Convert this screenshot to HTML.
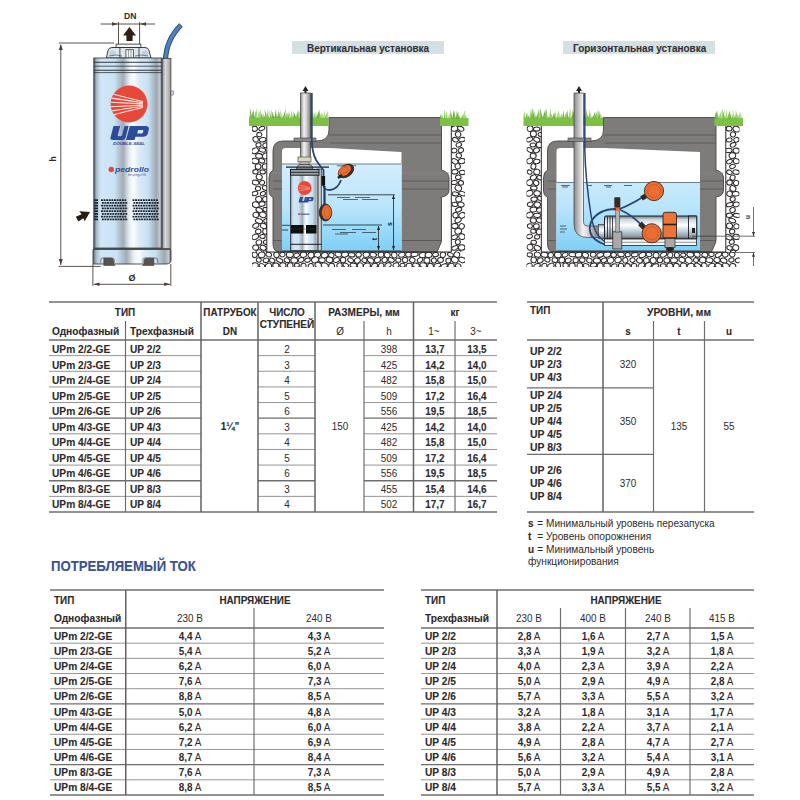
<!DOCTYPE html>
<html><head><meta charset="utf-8"><style>
html,body{margin:0;padding:0;background:#fff}
#p{position:relative;width:800px;height:800px;overflow:hidden;background:#fff}
.t{position:absolute;font-family:"Liberation Sans",sans-serif;white-space:nowrap;line-height:1}
.t b{font-weight:bold}
.bd{-webkit-text-stroke:0.1px currentColor}
svg{position:absolute;left:0;top:0}
</style></head><body><div id="p">
<svg width="800" height="800" viewBox="0 0 800 800">
<defs>
<linearGradient id="steel" x1="0" x2="1" y1="0" y2="0">
 <stop offset="0" stop-color="#56606a"/>
 <stop offset="0.04" stop-color="#a9bac6"/>
 <stop offset="0.1" stop-color="#cfe6f8"/>
 <stop offset="0.3" stop-color="#cbe3f6"/>
 <stop offset="0.43" stop-color="#a2acb3"/>
 <stop offset="0.52" stop-color="#e6eef3"/>
 <stop offset="0.58" stop-color="#fbfdff"/>
 <stop offset="0.66" stop-color="#dcebf6"/>
 <stop offset="0.8" stop-color="#c6e0f3"/>
 <stop offset="0.92" stop-color="#9ea8af"/>
 <stop offset="0.97" stop-color="#c3ccd2"/>
 <stop offset="1" stop-color="#4f5961"/>
</linearGradient>
<linearGradient id="strip" x1="0" x2="1">
 <stop offset="0" stop-color="#8d8d8d"/><stop offset="0.4" stop-color="#d8d8d8"/><stop offset="1" stop-color="#9a9a9a"/>
</linearGradient>
<linearGradient id="pipe" x1="0" x2="1">
 <stop offset="0" stop-color="#8a8a8a"/><stop offset="0.35" stop-color="#f2f2f2"/><stop offset="0.6" stop-color="#d0d0d0"/><stop offset="1" stop-color="#7a7a7a"/>
</linearGradient>
<linearGradient id="pipeh" x1="0" x2="0" y1="0" y2="1">
 <stop offset="0" stop-color="#8a8a8a"/><stop offset="0.35" stop-color="#f2f2f2"/><stop offset="0.6" stop-color="#d0d0d0"/><stop offset="1" stop-color="#7a7a7a"/>
</linearGradient>
<linearGradient id="water" gradientUnits="userSpaceOnUse" x1="0" x2="0" y1="164" y2="251">
 <stop offset="0" stop-color="#d4edfb"/><stop offset="0.5" stop-color="#b9e5fb"/><stop offset="1" stop-color="#7ecff7"/>
</linearGradient>
<linearGradient id="hsteel" x1="0" x2="0" y1="0" y2="1">
 <stop offset="0" stop-color="#6a747c"/><stop offset="0.15" stop-color="#c9d6df"/><stop offset="0.4" stop-color="#ffffff"/><stop offset="0.65" stop-color="#c3d2dd"/><stop offset="0.85" stop-color="#9aa5ad"/><stop offset="1" stop-color="#5a646c"/>
</linearGradient>
<radialGradient id="flt" cx="0.45" cy="0.45" r="0.6">
 <stop offset="0" stop-color="#f07b3e"/><stop offset="0.7" stop-color="#e8692f"/><stop offset="1" stop-color="#b84a1c"/>
</radialGradient>
</defs>
<g stroke="#4a3f3a" stroke-width="0.9" fill="none">
<line x1="59" y1="43" x2="114" y2="43"/>
<line x1="60.8" y1="45" x2="60.8" y2="265"/>
<line x1="58.7" y1="266.4" x2="100.7" y2="266.4"/>
<line x1="100.6" y1="24" x2="155" y2="24"/>
<line x1="118.5" y1="22" x2="118.5" y2="44"/>
<line x1="139.6" y1="22" x2="139.6" y2="44"/>
<line x1="92.9" y1="264" x2="92.9" y2="286"/>
<line x1="170.8" y1="264" x2="170.8" y2="286"/>
<line x1="94" y1="284.3" x2="170" y2="284.3"/>
</g>
<g fill="#4a3f3a">
<path d="M60.8 44 L58.8 50 L62.8 50Z"/><path d="M60.8 265 L58.8 259 L62.8 259Z"/>
<path d="M118 24 L112 22.3 L112 25.7Z"/><path d="M140 24 L146 22.3 L146 25.7Z"/>
<path d="M93.5 284.3 L99.5 282.6 L99.5 286Z"/><path d="M170.2 284.3 L164.2 282.6 L164.2 286Z"/>
</g>
<path d="M129.5 27 L136 35.5 L132.6 35.5 L132.6 41 L126.4 41 L126.4 35.5 L123 35.5Z" fill="#2f2015"/>
<path d="M90 212 L79.3 211.2 L81.6 214.3 L75.8 216.8 L78.3 221.4 L83.4 218.2 L84.6 221.2Z" fill="#2a1c12"/>
<path d="M181 25 C172 34 166 44 165.5 60" stroke="#27436e" stroke-width="5.2" fill="none"/>
<path d="M181 25 C172 34 166 44 165.5 60" stroke="#4f7fc0" stroke-width="3.4" fill="none"/>
<rect x="116.1" y="44.1" width="24.8" height="3.4" fill="#f2f4f5" stroke="#2a2a2a" stroke-width="0.8"/>
<path d="M106.4 58 L108 50.5 Q108.8 47.5 112 47.5 H145 Q148.2 47.5 149 50.5 L151 58 Z" fill="#dde6ec" stroke="#2a2a2a" stroke-width="0.9"/>
<ellipse cx="112.5" cy="53.5" rx="3.2" ry="3" fill="#bcd3e3"/><ellipse cx="145" cy="53.5" rx="3.2" ry="3" fill="#bcd3e3"/>
<path d="M109 56 Q116 54 122 56 M135 56 Q141 54 148 56" stroke="#3a3a3a" stroke-width="0.6" fill="none"/>
<line x1="119.9" y1="47.5" x2="119.9" y2="58" stroke="#2a2a2a" stroke-width="0.8"/><line x1="139" y1="47.5" x2="139" y2="58" stroke="#2a2a2a" stroke-width="0.8"/>
<rect x="125.9" y="49.7" width="7.5" height="8.3" fill="#eef2f4" stroke="#2a2a2a" stroke-width="0.7"/>
<line x1="128.5" y1="50" x2="128.5" y2="58" stroke="#555" stroke-width="0.5"/><line x1="131" y1="50" x2="131" y2="58" stroke="#555" stroke-width="0.5"/>
<rect x="161.9" y="58.5" width="9" height="190" fill="url(#strip)" stroke="#3b3b3b" stroke-width="0.8"/>
<rect x="171" y="91" width="2.2" height="4" fill="#ddd" stroke="#444" stroke-width="0.5"/>
<rect x="93.8" y="58" width="68.2" height="190.5" fill="url(#steel)" stroke="#3a3f45" stroke-width="0.9"/>
<line x1="93.8" y1="62.3" x2="162" y2="62.3" stroke="#2e343a" stroke-width="1.1"/>
<line x1="93.8" y1="66.2" x2="162" y2="66.2" stroke="#2e343a" stroke-width="0.8"/>
<line x1="93.8" y1="70.2" x2="162" y2="70.2" stroke="#2e343a" stroke-width="1.1"/>
<line x1="93.8" y1="72.6" x2="162" y2="72.6" stroke="#2e343a" stroke-width="0.8"/>
<path d="M93 249.5 H171 V260 Q171 264 166 264 H93Z" fill="url(#steel)" stroke="#3a3f45" stroke-width="0.9"/>
<line x1="93" y1="248" x2="162" y2="248" stroke="#3a3f45" stroke-width="0.8"/>
<path d="M100.8 263 V259.5 Q100.8 258 102.5 258 H112 Q114.3 258 114.3 260 V263" fill="none" stroke="#4a4f55" stroke-width="0.7"/>
<path d="M143 263 V259.5 Q143 258 144.7 258 H155.5 Q157.8 258 157.8 260 V263" fill="none" stroke="#4a4f55" stroke-width="0.7"/>
<path d="M103.8 258.2 H111 Q113.4 258.2 113.4 261 V263.5 L115 265.5 H103.8Z" fill="#57544f" stroke="#2a2a2a" stroke-width="0.5"/>
<path d="M146.5 258.2 H153.8 V265.5 H142.5 L144.2 263.5 V261 Q144.2 258.2 146.5 258.2Z" fill="#57544f" stroke="#2a2a2a" stroke-width="0.5"/>
<circle cx="129" cy="104" r="18.4" fill="#e8483a"/>
<clipPath id="logoclip"><circle cx="129" cy="104" r="18.4"/></clipPath>
<g clip-path="url(#logoclip)"><path d="M110.5 93.5 Q124 97.1 143 101.5" stroke="#fde4df" stroke-width="1.15" fill="none"/><path d="M110.5 97.9 Q124 100.1 143 102.7" stroke="#fde4df" stroke-width="1.15" fill="none"/><path d="M110.5 102.3 Q124 103.0 143 103.9" stroke="#fde4df" stroke-width="1.15" fill="none"/><path d="M110.5 106.7 Q124 106.0 143 105.1" stroke="#fde4df" stroke-width="1.15" fill="none"/><path d="M110.5 111.1 Q124 108.9 143 106.3" stroke="#fde4df" stroke-width="1.15" fill="none"/><path d="M110.5 115.5 Q124 111.9 143 107.5" stroke="#fde4df" stroke-width="1.15" fill="none"/></g>
<path d="M110.5 137.5 L113.5 126 H120.2 L117.8 135 Q117.5 136.2 118.8 136.2 H120.5 Q121.8 136.2 122.1 135 L124.5 126 H128.6 L125.6 137.5 Q125 140 122 140 H113 Q110 140 110.5 137.5Z" fill="#2b4c9a"/>
<path fill-rule="evenodd" d="M126 140 L129.8 126 H145.5 Q149.5 126 148.8 129.5 L148 133 Q147.2 136.8 143 136.8 H135.5 L134.6 140Z M137.2 133.5 H141.5 Q142.8 133.5 143.1 132.2 L143.3 131.3 Q143.6 130 142.3 130 H138.2Z" fill="#2b4c9a"/>
<text x="129" y="145.3" text-anchor="middle" font-family="Liberation Sans" font-weight="bold" font-style="italic" font-size="3.6" fill="#2b4c9a" textLength="32" lengthAdjust="spacingAndGlyphs">DOUBLE-SEAL</text>
<circle cx="111.3" cy="169.5" r="2.8" fill="#e8483a"/>
<text x="115" y="172.3" font-family="Liberation Sans" font-weight="bold" font-style="italic" font-size="7.5" fill="#2d4f95" textLength="34" lengthAdjust="spacingAndGlyphs">pedrollo</text>
<text x="128" y="175.5" font-family="Liberation Sans" font-style="italic" font-size="2.6" fill="#2d4f95">the spring of life</text>
<g fill="#15202a"><rect x="94.2" y="199.30" width="3.8" height="1.7"/><rect x="101.0" y="199.30" width="1.9" height="1.7"/><rect x="103.6" y="199.30" width="1.9" height="1.7"/><rect x="106.2" y="199.30" width="1.9" height="1.7"/><rect x="108.8" y="199.30" width="1.9" height="1.7"/><rect x="111.4" y="199.30" width="1.9" height="1.7"/><rect x="114.0" y="199.30" width="1.9" height="1.7"/><rect x="116.6" y="199.30" width="1.9" height="1.7"/><rect x="119.2" y="199.30" width="1.9" height="1.7"/><rect x="121.8" y="199.30" width="1.9" height="1.7"/><rect x="124.4" y="199.30" width="1.9" height="1.7"/><rect x="132.5" y="199.30" width="1.9" height="1.7"/><rect x="135.1" y="199.30" width="1.9" height="1.7"/><rect x="137.7" y="199.30" width="1.9" height="1.7"/><rect x="140.3" y="199.30" width="1.9" height="1.7"/><rect x="142.9" y="199.30" width="1.9" height="1.7"/><rect x="145.5" y="199.30" width="1.9" height="1.7"/><rect x="148.1" y="199.30" width="1.9" height="1.7"/><rect x="150.7" y="199.30" width="1.9" height="1.7"/><rect x="153.3" y="199.30" width="1.9" height="1.7"/><rect x="155.9" y="199.30" width="1.9" height="1.7"/><rect x="94.2" y="202.05" width="3.8" height="1.7"/><rect x="101.9" y="202.05" width="1.9" height="1.7"/><rect x="104.5" y="202.05" width="1.9" height="1.7"/><rect x="107.1" y="202.05" width="1.9" height="1.7"/><rect x="109.7" y="202.05" width="1.9" height="1.7"/><rect x="112.3" y="202.05" width="1.9" height="1.7"/><rect x="114.9" y="202.05" width="1.9" height="1.7"/><rect x="117.5" y="202.05" width="1.9" height="1.7"/><rect x="120.1" y="202.05" width="1.9" height="1.7"/><rect x="122.7" y="202.05" width="1.9" height="1.7"/><rect x="125.3" y="202.05" width="1.9" height="1.7"/><rect x="133.4" y="202.05" width="1.9" height="1.7"/><rect x="136.0" y="202.05" width="1.9" height="1.7"/><rect x="138.6" y="202.05" width="1.9" height="1.7"/><rect x="141.2" y="202.05" width="1.9" height="1.7"/><rect x="143.8" y="202.05" width="1.9" height="1.7"/><rect x="146.4" y="202.05" width="1.9" height="1.7"/><rect x="149.0" y="202.05" width="1.9" height="1.7"/><rect x="151.6" y="202.05" width="1.9" height="1.7"/><rect x="154.2" y="202.05" width="1.9" height="1.7"/><rect x="156.8" y="202.05" width="1.9" height="1.7"/><rect x="94.2" y="204.80" width="3.8" height="1.7"/><rect x="101.0" y="204.80" width="1.9" height="1.7"/><rect x="103.6" y="204.80" width="1.9" height="1.7"/><rect x="106.2" y="204.80" width="1.9" height="1.7"/><rect x="108.8" y="204.80" width="1.9" height="1.7"/><rect x="111.4" y="204.80" width="1.9" height="1.7"/><rect x="114.0" y="204.80" width="1.9" height="1.7"/><rect x="116.6" y="204.80" width="1.9" height="1.7"/><rect x="119.2" y="204.80" width="1.9" height="1.7"/><rect x="121.8" y="204.80" width="1.9" height="1.7"/><rect x="124.4" y="204.80" width="1.9" height="1.7"/><rect x="132.5" y="204.80" width="1.9" height="1.7"/><rect x="135.1" y="204.80" width="1.9" height="1.7"/><rect x="137.7" y="204.80" width="1.9" height="1.7"/><rect x="140.3" y="204.80" width="1.9" height="1.7"/><rect x="142.9" y="204.80" width="1.9" height="1.7"/><rect x="145.5" y="204.80" width="1.9" height="1.7"/><rect x="148.1" y="204.80" width="1.9" height="1.7"/><rect x="150.7" y="204.80" width="1.9" height="1.7"/><rect x="153.3" y="204.80" width="1.9" height="1.7"/><rect x="155.9" y="204.80" width="1.9" height="1.7"/><rect x="94.2" y="207.55" width="3.8" height="1.7"/><rect x="101.9" y="207.55" width="1.9" height="1.7"/><rect x="104.5" y="207.55" width="1.9" height="1.7"/><rect x="107.1" y="207.55" width="1.9" height="1.7"/><rect x="109.7" y="207.55" width="1.9" height="1.7"/><rect x="112.3" y="207.55" width="1.9" height="1.7"/><rect x="114.9" y="207.55" width="1.9" height="1.7"/><rect x="117.5" y="207.55" width="1.9" height="1.7"/><rect x="120.1" y="207.55" width="1.9" height="1.7"/><rect x="122.7" y="207.55" width="1.9" height="1.7"/><rect x="125.3" y="207.55" width="1.9" height="1.7"/><rect x="133.4" y="207.55" width="1.9" height="1.7"/><rect x="136.0" y="207.55" width="1.9" height="1.7"/><rect x="138.6" y="207.55" width="1.9" height="1.7"/><rect x="141.2" y="207.55" width="1.9" height="1.7"/><rect x="143.8" y="207.55" width="1.9" height="1.7"/><rect x="146.4" y="207.55" width="1.9" height="1.7"/><rect x="149.0" y="207.55" width="1.9" height="1.7"/><rect x="151.6" y="207.55" width="1.9" height="1.7"/><rect x="154.2" y="207.55" width="1.9" height="1.7"/><rect x="156.8" y="207.55" width="1.9" height="1.7"/><rect x="94.2" y="210.30" width="3.8" height="1.7"/><rect x="101.0" y="210.30" width="1.9" height="1.7"/><rect x="103.6" y="210.30" width="1.9" height="1.7"/><rect x="106.2" y="210.30" width="1.9" height="1.7"/><rect x="108.8" y="210.30" width="1.9" height="1.7"/><rect x="111.4" y="210.30" width="1.9" height="1.7"/><rect x="114.0" y="210.30" width="1.9" height="1.7"/><rect x="116.6" y="210.30" width="1.9" height="1.7"/><rect x="119.2" y="210.30" width="1.9" height="1.7"/><rect x="121.8" y="210.30" width="1.9" height="1.7"/><rect x="124.4" y="210.30" width="1.9" height="1.7"/><rect x="132.5" y="210.30" width="1.9" height="1.7"/><rect x="135.1" y="210.30" width="1.9" height="1.7"/><rect x="137.7" y="210.30" width="1.9" height="1.7"/><rect x="140.3" y="210.30" width="1.9" height="1.7"/><rect x="142.9" y="210.30" width="1.9" height="1.7"/><rect x="145.5" y="210.30" width="1.9" height="1.7"/><rect x="148.1" y="210.30" width="1.9" height="1.7"/><rect x="150.7" y="210.30" width="1.9" height="1.7"/><rect x="153.3" y="210.30" width="1.9" height="1.7"/><rect x="155.9" y="210.30" width="1.9" height="1.7"/><rect x="94.2" y="213.05" width="3.8" height="1.7"/><rect x="101.9" y="213.05" width="1.9" height="1.7"/><rect x="104.5" y="213.05" width="1.9" height="1.7"/><rect x="107.1" y="213.05" width="1.9" height="1.7"/><rect x="109.7" y="213.05" width="1.9" height="1.7"/><rect x="112.3" y="213.05" width="1.9" height="1.7"/><rect x="114.9" y="213.05" width="1.9" height="1.7"/><rect x="117.5" y="213.05" width="1.9" height="1.7"/><rect x="120.1" y="213.05" width="1.9" height="1.7"/><rect x="122.7" y="213.05" width="1.9" height="1.7"/><rect x="125.3" y="213.05" width="1.9" height="1.7"/><rect x="133.4" y="213.05" width="1.9" height="1.7"/><rect x="136.0" y="213.05" width="1.9" height="1.7"/><rect x="138.6" y="213.05" width="1.9" height="1.7"/><rect x="141.2" y="213.05" width="1.9" height="1.7"/><rect x="143.8" y="213.05" width="1.9" height="1.7"/><rect x="146.4" y="213.05" width="1.9" height="1.7"/><rect x="149.0" y="213.05" width="1.9" height="1.7"/><rect x="151.6" y="213.05" width="1.9" height="1.7"/><rect x="154.2" y="213.05" width="1.9" height="1.7"/><rect x="156.8" y="213.05" width="1.9" height="1.7"/><rect x="94.2" y="215.80" width="3.8" height="1.7"/><rect x="101.0" y="215.80" width="1.9" height="1.7"/><rect x="103.6" y="215.80" width="1.9" height="1.7"/><rect x="106.2" y="215.80" width="1.9" height="1.7"/><rect x="108.8" y="215.80" width="1.9" height="1.7"/><rect x="111.4" y="215.80" width="1.9" height="1.7"/><rect x="114.0" y="215.80" width="1.9" height="1.7"/><rect x="116.6" y="215.80" width="1.9" height="1.7"/><rect x="119.2" y="215.80" width="1.9" height="1.7"/><rect x="121.8" y="215.80" width="1.9" height="1.7"/><rect x="124.4" y="215.80" width="1.9" height="1.7"/><rect x="132.5" y="215.80" width="1.9" height="1.7"/><rect x="135.1" y="215.80" width="1.9" height="1.7"/><rect x="137.7" y="215.80" width="1.9" height="1.7"/><rect x="140.3" y="215.80" width="1.9" height="1.7"/><rect x="142.9" y="215.80" width="1.9" height="1.7"/><rect x="145.5" y="215.80" width="1.9" height="1.7"/><rect x="148.1" y="215.80" width="1.9" height="1.7"/><rect x="150.7" y="215.80" width="1.9" height="1.7"/><rect x="153.3" y="215.80" width="1.9" height="1.7"/><rect x="155.9" y="215.80" width="1.9" height="1.7"/><rect x="94.2" y="218.55" width="3.8" height="1.7"/><rect x="101.9" y="218.55" width="1.9" height="1.7"/><rect x="104.5" y="218.55" width="1.9" height="1.7"/><rect x="107.1" y="218.55" width="1.9" height="1.7"/><rect x="109.7" y="218.55" width="1.9" height="1.7"/><rect x="112.3" y="218.55" width="1.9" height="1.7"/><rect x="114.9" y="218.55" width="1.9" height="1.7"/><rect x="117.5" y="218.55" width="1.9" height="1.7"/><rect x="120.1" y="218.55" width="1.9" height="1.7"/><rect x="122.7" y="218.55" width="1.9" height="1.7"/><rect x="125.3" y="218.55" width="1.9" height="1.7"/><rect x="133.4" y="218.55" width="1.9" height="1.7"/><rect x="136.0" y="218.55" width="1.9" height="1.7"/><rect x="138.6" y="218.55" width="1.9" height="1.7"/><rect x="141.2" y="218.55" width="1.9" height="1.7"/><rect x="143.8" y="218.55" width="1.9" height="1.7"/><rect x="146.4" y="218.55" width="1.9" height="1.7"/><rect x="149.0" y="218.55" width="1.9" height="1.7"/><rect x="151.6" y="218.55" width="1.9" height="1.7"/><rect x="154.2" y="218.55" width="1.9" height="1.7"/><rect x="156.8" y="218.55" width="1.9" height="1.7"/></g>
<text x="130.2" y="18.8" text-anchor="middle" font-family="Liberation Sans" font-weight="bold" font-size="8.6" fill="#2e2a2b">DN</text>
<text x="53" y="159" text-anchor="middle" font-family="Liberation Sans" font-weight="bold" font-size="8.5" fill="#2e2a2b" transform="rotate(-90 53 159)" dy="3">h</text>
<text x="132" y="281" text-anchor="middle" font-family="Liberation Sans" font-weight="bold" font-size="9" fill="#2e2a2b">Ø</text>
<rect x="252" y="126" width="15" height="141" fill="#ffffff"/>
<clipPath id="gc56"><rect x="252" y="126" width="15" height="141"/></clipPath>
<g clip-path="url(#gc56)" fill="#ffffff" stroke="#2e2a2a" stroke-width="1.05"><ellipse cx="254.7" cy="128.8" rx="2.7" ry="2.6" transform="rotate(-8 254.7 128.8)"/><ellipse cx="261.8" cy="128.5" rx="3.1" ry="2.0" transform="rotate(-25 261.8 128.5)"/><ellipse cx="259.3" cy="134.6" rx="2.6" ry="2.2" transform="rotate(5 259.3 134.6)"/><ellipse cx="255.6" cy="139.3" rx="2.6" ry="2.8" transform="rotate(-23 255.6 139.3)"/><ellipse cx="262.7" cy="139.7" rx="3.4" ry="2.2" transform="rotate(-8 262.7 139.7)"/><ellipse cx="258.5" cy="144.9" rx="2.6" ry="2.2" transform="rotate(-11 258.5 144.9)"/><ellipse cx="265.7" cy="145.2" rx="3.0" ry="2.3" transform="rotate(-15 265.7 145.2)"/><ellipse cx="255.1" cy="150.8" rx="3.5" ry="2.7" transform="rotate(-23 255.1 150.8)"/><ellipse cx="262.3" cy="150.0" rx="3.3" ry="2.1" transform="rotate(10 262.3 150.0)"/><ellipse cx="259.1" cy="155.9" rx="3.5" ry="2.3" transform="rotate(5 259.1 155.9)"/><ellipse cx="265.8" cy="155.9" rx="3.4" ry="2.9" transform="rotate(-26 265.8 155.9)"/><ellipse cx="255.2" cy="161.1" rx="3.6" ry="2.7" transform="rotate(10 255.2 161.1)"/><ellipse cx="261.8" cy="160.8" rx="3.0" ry="2.2" transform="rotate(16 261.8 160.8)"/><ellipse cx="258.1" cy="166.6" rx="2.9" ry="2.8" transform="rotate(3 258.1 166.6)"/><ellipse cx="265.6" cy="166.5" rx="3.4" ry="2.8" transform="rotate(-8 265.6 166.5)"/><ellipse cx="255.5" cy="171.8" rx="2.7" ry="2.2" transform="rotate(-1 255.5 171.8)"/><ellipse cx="262.7" cy="171.9" rx="2.8" ry="2.0" transform="rotate(4 262.7 171.9)"/><ellipse cx="259.2" cy="177.0" rx="3.1" ry="2.6" transform="rotate(24 259.2 177.0)"/><ellipse cx="255.6" cy="182.5" rx="3.4" ry="2.4" transform="rotate(8 255.6 182.5)"/><ellipse cx="262.1" cy="182.7" rx="2.6" ry="2.2" transform="rotate(-27 262.1 182.7)"/><ellipse cx="258.0" cy="188.5" rx="2.6" ry="2.3" transform="rotate(7 258.0 188.5)"/><ellipse cx="265.1" cy="187.9" rx="2.8" ry="2.3" transform="rotate(21 265.1 187.9)"/><ellipse cx="254.9" cy="193.5" rx="3.0" ry="2.1" transform="rotate(-14 254.9 193.5)"/><ellipse cx="262.9" cy="193.6" rx="2.7" ry="2.0" transform="rotate(-21 262.9 193.6)"/><ellipse cx="258.7" cy="199.2" rx="3.1" ry="2.9" transform="rotate(-14 258.7 199.2)"/><ellipse cx="265.3" cy="199.2" rx="2.7" ry="2.7" transform="rotate(-10 265.3 199.2)"/><ellipse cx="255.9" cy="204.7" rx="3.6" ry="2.8" transform="rotate(14 255.9 204.7)"/><ellipse cx="262.0" cy="204.0" rx="3.1" ry="2.3" transform="rotate(-13 262.0 204.0)"/><ellipse cx="259.4" cy="210.2" rx="3.6" ry="2.4" transform="rotate(27 259.4 210.2)"/><ellipse cx="265.6" cy="209.6" rx="2.7" ry="2.2" transform="rotate(7 265.6 209.6)"/><ellipse cx="255.9" cy="214.9" rx="3.0" ry="2.6" transform="rotate(10 255.9 214.9)"/><ellipse cx="262.9" cy="214.9" rx="3.4" ry="2.7" transform="rotate(17 262.9 214.9)"/><ellipse cx="259.0" cy="221.0" rx="3.6" ry="2.4" transform="rotate(13 259.0 221.0)"/><ellipse cx="266.3" cy="220.8" rx="2.6" ry="2.1" transform="rotate(-21 266.3 220.8)"/><ellipse cx="255.8" cy="225.7" rx="3.2" ry="2.3" transform="rotate(-29 255.8 225.7)"/><ellipse cx="263.5" cy="225.9" rx="3.2" ry="2.5" transform="rotate(22 263.5 225.9)"/><ellipse cx="258.3" cy="231.5" rx="2.8" ry="2.3" transform="rotate(-14 258.3 231.5)"/><ellipse cx="265.3" cy="231.4" rx="2.6" ry="2.8" transform="rotate(5 265.3 231.4)"/><ellipse cx="255.3" cy="236.8" rx="3.5" ry="2.5" transform="rotate(-29 255.3 236.8)"/><ellipse cx="262.5" cy="236.5" rx="2.7" ry="2.0" transform="rotate(-2 262.5 236.5)"/><ellipse cx="258.9" cy="242.4" rx="2.9" ry="2.5" transform="rotate(-24 258.9 242.4)"/><ellipse cx="266.2" cy="242.2" rx="2.8" ry="2.2" transform="rotate(4 266.2 242.2)"/><ellipse cx="255.7" cy="247.6" rx="3.0" ry="2.6" transform="rotate(12 255.7 247.6)"/><ellipse cx="263.1" cy="247.8" rx="3.1" ry="2.4" transform="rotate(23 263.1 247.8)"/><ellipse cx="258.9" cy="252.7" rx="3.1" ry="2.8" transform="rotate(-23 258.9 252.7)"/><ellipse cx="265.1" cy="253.1" rx="2.6" ry="2.2" transform="rotate(17 265.1 253.1)"/><ellipse cx="254.6" cy="258.7" rx="3.3" ry="2.6" transform="rotate(28 254.6 258.7)"/><ellipse cx="261.8" cy="258.8" rx="3.5" ry="2.4" transform="rotate(20 261.8 258.8)"/><ellipse cx="258.4" cy="263.7" rx="3.1" ry="2.3" transform="rotate(13 258.4 263.7)"/><ellipse cx="265.0" cy="263.7" rx="3.1" ry="2.4" transform="rotate(7 265.0 263.7)"/></g>
<rect x="451.5" y="126" width="13.5" height="141" fill="#ffffff"/>
<clipPath id="gc59"><rect x="451.5" y="126" width="13.5" height="141"/></clipPath>
<g clip-path="url(#gc59)" fill="#ffffff" stroke="#2e2a2a" stroke-width="1.05"><ellipse cx="454.8" cy="128.5" rx="3.6" ry="2.7" transform="rotate(-14 454.8 128.5)"/><ellipse cx="460.7" cy="128.7" rx="3.4" ry="2.2" transform="rotate(25 460.7 128.7)"/><ellipse cx="458.1" cy="134.4" rx="2.7" ry="2.8" transform="rotate(-25 458.1 134.4)"/><ellipse cx="455.4" cy="139.7" rx="3.0" ry="2.1" transform="rotate(18 455.4 139.7)"/><ellipse cx="462.1" cy="139.6" rx="3.4" ry="2.1" transform="rotate(-10 462.1 139.6)"/><ellipse cx="458.8" cy="144.8" rx="2.8" ry="2.1" transform="rotate(-23 458.8 144.8)"/><ellipse cx="454.2" cy="150.6" rx="2.7" ry="2.3" transform="rotate(-13 454.2 150.6)"/><ellipse cx="460.9" cy="150.2" rx="2.7" ry="2.3" transform="rotate(-29 460.9 150.2)"/><ellipse cx="458.8" cy="155.5" rx="2.7" ry="2.4" transform="rotate(19 458.8 155.5)"/><ellipse cx="454.8" cy="161.4" rx="3.4" ry="2.4" transform="rotate(29 454.8 161.4)"/><ellipse cx="461.8" cy="161.1" rx="3.4" ry="2.6" transform="rotate(-9 461.8 161.1)"/><ellipse cx="457.7" cy="166.3" rx="2.6" ry="2.7" transform="rotate(-25 457.7 166.3)"/><ellipse cx="454.9" cy="171.8" rx="3.2" ry="2.3" transform="rotate(-2 454.9 171.8)"/><ellipse cx="462.4" cy="172.4" rx="3.0" ry="2.2" transform="rotate(3 462.4 172.4)"/><ellipse cx="458.3" cy="177.3" rx="2.8" ry="2.3" transform="rotate(-2 458.3 177.3)"/><ellipse cx="454.3" cy="182.5" rx="3.1" ry="2.0" transform="rotate(-6 454.3 182.5)"/><ellipse cx="461.0" cy="182.9" rx="2.5" ry="2.3" transform="rotate(2 461.0 182.9)"/><ellipse cx="458.3" cy="188.1" rx="3.3" ry="2.8" transform="rotate(29 458.3 188.1)"/><ellipse cx="455.4" cy="193.9" rx="3.2" ry="2.0" transform="rotate(8 455.4 193.9)"/><ellipse cx="462.2" cy="193.6" rx="3.4" ry="2.1" transform="rotate(20 462.2 193.6)"/><ellipse cx="458.8" cy="199.2" rx="3.1" ry="2.8" transform="rotate(-16 458.8 199.2)"/><ellipse cx="454.8" cy="204.4" rx="2.9" ry="2.1" transform="rotate(8 454.8 204.4)"/><ellipse cx="461.0" cy="204.6" rx="3.2" ry="2.4" transform="rotate(15 461.0 204.6)"/><ellipse cx="458.6" cy="209.6" rx="3.2" ry="2.1" transform="rotate(-26 458.6 209.6)"/><ellipse cx="455.5" cy="215.2" rx="2.7" ry="2.7" transform="rotate(-7 455.5 215.2)"/><ellipse cx="462.1" cy="215.3" rx="3.3" ry="2.7" transform="rotate(-25 462.1 215.3)"/><ellipse cx="458.1" cy="220.2" rx="3.3" ry="2.3" transform="rotate(-26 458.1 220.2)"/><ellipse cx="454.8" cy="226.0" rx="3.3" ry="2.6" transform="rotate(-2 454.8 226.0)"/><ellipse cx="461.7" cy="226.4" rx="2.6" ry="2.8" transform="rotate(26 461.7 226.4)"/><ellipse cx="458.2" cy="231.2" rx="3.4" ry="2.9" transform="rotate(-17 458.2 231.2)"/><ellipse cx="454.5" cy="237.2" rx="3.1" ry="2.1" transform="rotate(-22 454.5 237.2)"/><ellipse cx="461.9" cy="236.6" rx="3.1" ry="2.8" transform="rotate(24 461.9 236.6)"/><ellipse cx="457.8" cy="242.0" rx="2.5" ry="2.4" transform="rotate(-22 457.8 242.0)"/><ellipse cx="454.9" cy="247.9" rx="3.4" ry="2.0" transform="rotate(-23 454.9 247.9)"/><ellipse cx="461.7" cy="247.5" rx="3.3" ry="2.8" transform="rotate(-6 461.7 247.5)"/><ellipse cx="458.2" cy="252.6" rx="2.9" ry="2.4" transform="rotate(-24 458.2 252.6)"/><ellipse cx="454.4" cy="258.4" rx="3.5" ry="2.2" transform="rotate(-19 454.4 258.4)"/><ellipse cx="461.8" cy="258.5" rx="3.6" ry="2.8" transform="rotate(25 461.8 258.5)"/><ellipse cx="458.6" cy="263.8" rx="3.3" ry="2.0" transform="rotate(15 458.6 263.8)"/></g>
<rect x="252" y="252" width="213" height="15" fill="#ffffff"/>
<clipPath id="gc62"><rect x="252" y="252" width="213" height="15"/></clipPath>
<g clip-path="url(#gc62)" fill="#ffffff" stroke="#2e2a2a" stroke-width="1.05"><ellipse cx="254.7" cy="254.8" rx="2.6" ry="2.8" transform="rotate(-9 254.7 254.8)"/><ellipse cx="261.7" cy="254.9" rx="3.3" ry="2.9" transform="rotate(-12 261.7 254.9)"/><ellipse cx="268.7" cy="254.6" rx="2.9" ry="2.2" transform="rotate(24 268.7 254.6)"/><ellipse cx="276.5" cy="254.8" rx="2.7" ry="2.8" transform="rotate(-22 276.5 254.8)"/><ellipse cx="282.4" cy="254.6" rx="2.6" ry="2.3" transform="rotate(-14 282.4 254.6)"/><ellipse cx="289.8" cy="254.7" rx="3.5" ry="2.7" transform="rotate(1 289.8 254.7)"/><ellipse cx="296.6" cy="255.2" rx="2.9" ry="2.1" transform="rotate(-22 296.6 255.2)"/><ellipse cx="303.5" cy="254.6" rx="3.2" ry="2.8" transform="rotate(-15 303.5 254.6)"/><ellipse cx="311.1" cy="255.1" rx="3.0" ry="2.9" transform="rotate(-29 311.1 255.1)"/><ellipse cx="317.4" cy="254.9" rx="3.3" ry="2.8" transform="rotate(-30 317.4 254.9)"/><ellipse cx="324.7" cy="255.2" rx="3.5" ry="2.7" transform="rotate(-15 324.7 255.2)"/><ellipse cx="331.3" cy="255.2" rx="2.7" ry="2.5" transform="rotate(13 331.3 255.2)"/><ellipse cx="338.3" cy="254.4" rx="3.3" ry="2.4" transform="rotate(17 338.3 254.4)"/><ellipse cx="344.9" cy="254.5" rx="3.5" ry="2.6" transform="rotate(-15 344.9 254.5)"/><ellipse cx="351.7" cy="254.8" rx="3.3" ry="2.1" transform="rotate(5 351.7 254.8)"/><ellipse cx="358.6" cy="254.6" rx="2.7" ry="2.5" transform="rotate(-2 358.6 254.6)"/><ellipse cx="366.3" cy="254.6" rx="3.2" ry="2.8" transform="rotate(-15 366.3 254.6)"/><ellipse cx="373.2" cy="254.8" rx="3.3" ry="2.3" transform="rotate(10 373.2 254.8)"/><ellipse cx="381.0" cy="254.6" rx="2.8" ry="2.6" transform="rotate(-28 381.0 254.6)"/><ellipse cx="387.2" cy="255.0" rx="3.0" ry="2.6" transform="rotate(14 387.2 255.0)"/><ellipse cx="394.3" cy="255.1" rx="2.7" ry="2.9" transform="rotate(-16 394.3 255.1)"/><ellipse cx="401.8" cy="254.8" rx="3.3" ry="2.3" transform="rotate(-19 401.8 254.8)"/><ellipse cx="408.6" cy="254.5" rx="3.0" ry="2.6" transform="rotate(-6 408.6 254.5)"/><ellipse cx="414.5" cy="254.4" rx="3.6" ry="2.1" transform="rotate(-6 414.5 254.4)"/><ellipse cx="422.7" cy="255.1" rx="3.5" ry="2.7" transform="rotate(-10 422.7 255.1)"/><ellipse cx="428.6" cy="254.9" rx="3.5" ry="2.7" transform="rotate(-7 428.6 254.9)"/><ellipse cx="435.5" cy="254.6" rx="2.9" ry="2.2" transform="rotate(-9 435.5 254.6)"/><ellipse cx="442.9" cy="254.7" rx="2.6" ry="2.9" transform="rotate(19 442.9 254.7)"/><ellipse cx="450.4" cy="254.7" rx="3.0" ry="2.0" transform="rotate(25 450.4 254.7)"/><ellipse cx="456.8" cy="254.7" rx="2.9" ry="2.8" transform="rotate(19 456.8 254.7)"/><ellipse cx="258.8" cy="260.0" rx="2.5" ry="2.1" transform="rotate(15 258.8 260.0)"/><ellipse cx="266.0" cy="260.3" rx="2.9" ry="2.2" transform="rotate(-14 266.0 260.3)"/><ellipse cx="272.2" cy="260.4" rx="2.8" ry="2.2" transform="rotate(25 272.2 260.4)"/><ellipse cx="279.5" cy="260.2" rx="3.5" ry="2.0" transform="rotate(27 279.5 260.2)"/><ellipse cx="287.0" cy="260.2" rx="2.9" ry="2.2" transform="rotate(26 287.0 260.2)"/><ellipse cx="294.2" cy="260.4" rx="3.4" ry="2.7" transform="rotate(6 294.2 260.4)"/><ellipse cx="301.1" cy="259.9" rx="2.9" ry="2.3" transform="rotate(-18 301.1 259.9)"/><ellipse cx="307.5" cy="260.2" rx="2.8" ry="2.1" transform="rotate(-10 307.5 260.2)"/><ellipse cx="315.0" cy="259.9" rx="3.5" ry="2.9" transform="rotate(-24 315.0 259.9)"/><ellipse cx="321.9" cy="260.1" rx="3.3" ry="2.4" transform="rotate(7 321.9 260.1)"/><ellipse cx="329.5" cy="259.9" rx="3.3" ry="2.8" transform="rotate(20 329.5 259.9)"/><ellipse cx="336.4" cy="260.0" rx="3.1" ry="2.3" transform="rotate(-15 336.4 260.0)"/><ellipse cx="343.1" cy="260.1" rx="2.7" ry="2.8" transform="rotate(-6 343.1 260.1)"/><ellipse cx="350.6" cy="260.3" rx="3.1" ry="2.2" transform="rotate(29 350.6 260.3)"/><ellipse cx="357.4" cy="260.5" rx="3.0" ry="2.7" transform="rotate(-28 357.4 260.5)"/><ellipse cx="364.4" cy="260.3" rx="2.6" ry="2.2" transform="rotate(26 364.4 260.3)"/><ellipse cx="370.7" cy="260.4" rx="3.5" ry="2.4" transform="rotate(27 370.7 260.4)"/><ellipse cx="377.4" cy="260.1" rx="3.2" ry="2.6" transform="rotate(-22 377.4 260.1)"/><ellipse cx="384.6" cy="260.0" rx="2.8" ry="2.5" transform="rotate(-29 384.6 260.0)"/><ellipse cx="391.2" cy="260.0" rx="3.2" ry="2.2" transform="rotate(18 391.2 260.0)"/><ellipse cx="398.3" cy="260.2" rx="2.6" ry="2.1" transform="rotate(8 398.3 260.2)"/><ellipse cx="405.1" cy="260.0" rx="2.7" ry="2.6" transform="rotate(-12 405.1 260.0)"/><ellipse cx="412.3" cy="260.1" rx="2.8" ry="2.5" transform="rotate(22 412.3 260.1)"/><ellipse cx="420.0" cy="260.0" rx="2.9" ry="2.2" transform="rotate(-30 420.0 260.0)"/><ellipse cx="426.9" cy="260.5" rx="3.0" ry="2.7" transform="rotate(-2 426.9 260.5)"/><ellipse cx="433.9" cy="260.5" rx="2.5" ry="2.5" transform="rotate(-25 433.9 260.5)"/><ellipse cx="440.5" cy="260.0" rx="2.9" ry="2.5" transform="rotate(1 440.5 260.0)"/><ellipse cx="448.4" cy="260.6" rx="2.6" ry="2.4" transform="rotate(-18 448.4 260.6)"/><ellipse cx="454.9" cy="259.8" rx="3.5" ry="2.9" transform="rotate(26 454.9 259.8)"/><ellipse cx="462.1" cy="259.9" rx="3.5" ry="2.6" transform="rotate(17 462.1 259.9)"/><ellipse cx="254.9" cy="265.4" rx="3.4" ry="2.7" transform="rotate(-6 254.9 265.4)"/><ellipse cx="262.0" cy="265.8" rx="2.9" ry="2.1" transform="rotate(24 262.0 265.8)"/><ellipse cx="268.5" cy="265.9" rx="3.1" ry="2.7" transform="rotate(-23 268.5 265.9)"/><ellipse cx="275.8" cy="265.5" rx="3.1" ry="2.6" transform="rotate(5 275.8 265.5)"/><ellipse cx="282.9" cy="265.2" rx="3.2" ry="2.4" transform="rotate(7 282.9 265.2)"/><ellipse cx="290.2" cy="265.6" rx="2.8" ry="2.7" transform="rotate(-19 290.2 265.6)"/><ellipse cx="296.9" cy="265.3" rx="2.6" ry="2.1" transform="rotate(-3 296.9 265.3)"/><ellipse cx="303.5" cy="265.8" rx="2.5" ry="2.6" transform="rotate(17 303.5 265.8)"/><ellipse cx="310.8" cy="266.0" rx="2.6" ry="2.5" transform="rotate(-22 310.8 266.0)"/><ellipse cx="318.5" cy="265.4" rx="3.6" ry="2.7" transform="rotate(29 318.5 265.4)"/><ellipse cx="324.8" cy="265.8" rx="3.6" ry="2.8" transform="rotate(26 324.8 265.8)"/><ellipse cx="331.6" cy="265.9" rx="2.9" ry="2.7" transform="rotate(-14 331.6 265.9)"/><ellipse cx="339.5" cy="265.4" rx="2.7" ry="2.5" transform="rotate(-14 339.5 265.4)"/><ellipse cx="345.8" cy="265.3" rx="2.9" ry="2.0" transform="rotate(26 345.8 265.3)"/><ellipse cx="353.5" cy="265.3" rx="3.5" ry="2.2" transform="rotate(2 353.5 265.3)"/><ellipse cx="360.3" cy="265.7" rx="2.9" ry="2.8" transform="rotate(23 360.3 265.7)"/><ellipse cx="366.9" cy="265.8" rx="3.6" ry="2.6" transform="rotate(-14 366.9 265.8)"/><ellipse cx="374.6" cy="265.6" rx="3.1" ry="2.3" transform="rotate(-19 374.6 265.6)"/><ellipse cx="381.2" cy="265.7" rx="2.6" ry="2.7" transform="rotate(29 381.2 265.7)"/><ellipse cx="388.0" cy="265.2" rx="3.2" ry="2.3" transform="rotate(-21 388.0 265.2)"/><ellipse cx="396.0" cy="265.3" rx="3.0" ry="2.5" transform="rotate(-16 396.0 265.3)"/><ellipse cx="402.5" cy="265.3" rx="2.5" ry="2.0" transform="rotate(-9 402.5 265.3)"/><ellipse cx="409.2" cy="265.7" rx="3.1" ry="2.5" transform="rotate(-2 409.2 265.7)"/><ellipse cx="416.0" cy="265.3" rx="3.5" ry="2.2" transform="rotate(8 416.0 265.3)"/><ellipse cx="423.3" cy="265.2" rx="3.4" ry="2.4" transform="rotate(9 423.3 265.2)"/><ellipse cx="430.5" cy="265.9" rx="2.9" ry="2.6" transform="rotate(14 430.5 265.9)"/><ellipse cx="437.4" cy="265.5" rx="3.5" ry="2.0" transform="rotate(-16 437.4 265.5)"/><ellipse cx="444.2" cy="266.0" rx="3.4" ry="2.0" transform="rotate(-21 444.2 266.0)"/><ellipse cx="451.1" cy="265.9" rx="3.2" ry="2.5" transform="rotate(-20 451.1 265.9)"/><ellipse cx="458.2" cy="265.8" rx="2.8" ry="2.0" transform="rotate(13 458.2 265.8)"/></g>
<path d="M329 117.5 H440 Q441.5 117.5 441.5 120 V170 Q449 172 449 178 V190 Q449 196 441.5 197 V240 Q441.5 242 440.5 244 L437 252 H280 Q273 252 273 244 V197 Q269 196 269 190 V178 Q269 172 273 170 V151 Q273 141 283 141 H316 Q329 141 329 130Z" fill="#7e7c7a" stroke="#4a4644" stroke-width="0.9"/>
<g stroke="#55514f" stroke-width="0.8">
<line x1="329" y1="135" x2="441" y2="135"/>
<line x1="330" y1="143" x2="441" y2="143"/>
<line x1="273" y1="181" x2="449" y2="181"/>
<line x1="273" y1="189" x2="449" y2="189"/>
<line x1="273" y1="240.5" x2="441" y2="240.5"/>
</g>
<g stroke="#8a8888" stroke-width="0.7"><line x1="273" y1="173" x2="449" y2="173"/></g>
<path d="M282 151 Q282 148 286 148 H330 L401.5 152 V251 H282Z" fill="#ffffff"/>
<rect x="282" y="164" width="119.5" height="87" fill="url(#water)"/>
<line x1="282" y1="164" x2="401.5" y2="164" stroke="#3a4a55" stroke-width="0.7"/>
<line x1="282" y1="251" x2="401.5" y2="251" stroke="#3a3a3a" stroke-width="1"/>
<path d="M266.8 126 V252 H451.3 V126" fill="none" stroke="#2a2626" stroke-width="1"/>
<rect x="249" y="117.5" width="79.5" height="8.5" fill="#7cc144"/>
<g opacity="0.85"><path d="M249.0 118.0 L251.2 108.4 L251.0 118.0Z" fill="#a5d77a"/><path d="M249.9 118.0 L249.9 107.5 L252.2 118.0Z" fill="#6cb33a"/><path d="M251.0 118.0 L253.3 109.0 L253.6 118.0Z" fill="#6cb33a"/><path d="M252.2 118.0 L253.2 110.2 L254.7 118.0Z" fill="#5aa52e"/><path d="M253.9 118.0 L256.7 107.9 L255.5 118.0Z" fill="#6cb33a"/><path d="M254.9 118.0 L257.4 108.1 L256.6 118.0Z" fill="#8ccd55"/><path d="M256.7 118.0 L259.5 111.5 L258.5 118.0Z" fill="#8ccd55"/><path d="M257.5 118.0 L261.0 108.4 L260.3 118.0Z" fill="#a5d77a"/><path d="M259.7 118.0 L257.9 110.3 L261.1 118.0Z" fill="#8ccd55"/><path d="M260.8 118.0 L260.5 111.7 L263.1 118.0Z" fill="#6cb33a"/><path d="M262.8 118.0 L261.2 112.5 L264.3 118.0Z" fill="#8ccd55"/><path d="M264.1 118.0 L262.5 112.6 L265.6 118.0Z" fill="#6cb33a"/><path d="M265.5 118.0 L264.5 109.1 L267.7 118.0Z" fill="#5aa52e"/><path d="M266.5 118.0 L267.9 107.8 L268.9 118.0Z" fill="#a5d77a"/><path d="M267.9 118.0 L266.7 112.3 L269.4 118.0Z" fill="#6cb33a"/><path d="M269.8 118.0 L269.5 109.7 L271.4 118.0Z" fill="#6cb33a"/><path d="M271.6 118.0 L271.5 109.6 L273.5 118.0Z" fill="#5aa52e"/><path d="M272.1 118.0 L272.3 112.0 L274.5 118.0Z" fill="#5aa52e"/><path d="M274.4 118.0 L275.9 108.9 L276.5 118.0Z" fill="#5aa52e"/><path d="M276.1 118.0 L276.7 113.3 L278.1 118.0Z" fill="#6cb33a"/><path d="M277.5 118.0 L278.6 109.3 L279.2 118.0Z" fill="#6cb33a"/><path d="M278.9 118.0 L279.7 111.8 L281.0 118.0Z" fill="#5aa52e"/><path d="M280.8 118.0 L279.4 107.6 L282.9 118.0Z" fill="#a5d77a"/><path d="M282.5 118.0 L286.0 108.5 L284.7 118.0Z" fill="#5aa52e"/><path d="M283.9 118.0 L286.8 112.5 L286.6 118.0Z" fill="#8ccd55"/><path d="M286.0 118.0 L287.4 112.8 L287.5 118.0Z" fill="#6cb33a"/><path d="M287.4 118.0 L287.9 111.4 L289.4 118.0Z" fill="#6cb33a"/><path d="M288.9 118.0 L289.2 109.6 L290.7 118.0Z" fill="#a5d77a"/><path d="M290.5 118.0 L291.3 110.5 L293.2 118.0Z" fill="#8ccd55"/><path d="M292.8 118.0 L294.4 112.7 L295.2 118.0Z" fill="#6cb33a"/><path d="M294.0 118.0 L293.5 111.5 L296.6 118.0Z" fill="#5aa52e"/><path d="M295.2 118.0 L297.7 110.9 L297.4 118.0Z" fill="#8ccd55"/><path d="M296.5 118.0 L298.6 109.6 L298.6 118.0Z" fill="#5aa52e"/><path d="M298.0 118.0 L300.5 109.3 L299.6 118.0Z" fill="#8ccd55"/><path d="M300.0 118.0 L301.5 109.2 L301.9 118.0Z" fill="#8ccd55"/><path d="M301.0 118.0 L304.6 112.4 L303.4 118.0Z" fill="#6cb33a"/><path d="M302.4 118.0 L301.7 109.6 L304.1 118.0Z" fill="#8ccd55"/><path d="M304.3 118.0 L304.8 109.1 L306.0 118.0Z" fill="#6cb33a"/><path d="M305.6 118.0 L306.2 108.2 L307.1 118.0Z" fill="#a5d77a"/><path d="M307.1 118.0 L308.8 110.5 L309.1 118.0Z" fill="#8ccd55"/><path d="M308.4 118.0 L306.8 109.1 L310.2 118.0Z" fill="#a5d77a"/><path d="M309.8 118.0 L311.8 110.0 L312.4 118.0Z" fill="#8ccd55"/><path d="M311.9 118.0 L312.6 109.7 L313.7 118.0Z" fill="#6cb33a"/><path d="M313.7 118.0 L314.4 112.0 L316.1 118.0Z" fill="#8ccd55"/><path d="M314.9 118.0 L315.8 111.0 L317.2 118.0Z" fill="#a5d77a"/><path d="M316.2 118.0 L319.4 109.5 L318.9 118.0Z" fill="#5aa52e"/><path d="M318.1 118.0 L319.4 111.2 L320.8 118.0Z" fill="#6cb33a"/><path d="M319.2 118.0 L321.7 112.2 L322.0 118.0Z" fill="#8ccd55"/><path d="M321.0 118.0 L322.5 112.9 L323.2 118.0Z" fill="#a5d77a"/><path d="M322.6 118.0 L325.3 109.7 L324.7 118.0Z" fill="#a5d77a"/><path d="M324.6 118.0 L327.9 110.8 L326.3 118.0Z" fill="#6cb33a"/><path d="M326.4 118.0 L328.0 109.8 L328.2 118.0Z" fill="#a5d77a"/></g>
<rect x="440" y="118" width="28.5" height="8" fill="#7cc144"/>
<g opacity="0.85"><path d="M440.0 118.5 L440.6 113.9 L442.0 118.5Z" fill="#5aa52e"/><path d="M441.6 118.5 L441.6 113.3 L443.6 118.5Z" fill="#8ccd55"/><path d="M444.0 118.5 L444.6 108.2 L445.6 118.5Z" fill="#6cb33a"/><path d="M445.6 118.5 L446.6 110.2 L447.8 118.5Z" fill="#8ccd55"/><path d="M447.4 118.5 L449.5 113.1 L450.0 118.5Z" fill="#a5d77a"/><path d="M449.3 118.5 L450.4 112.2 L450.9 118.5Z" fill="#a5d77a"/><path d="M450.5 118.5 L450.3 108.9 L452.4 118.5Z" fill="#5aa52e"/><path d="M452.3 118.5 L453.5 109.9 L454.9 118.5Z" fill="#5aa52e"/><path d="M453.9 118.5 L454.0 110.1 L455.9 118.5Z" fill="#6cb33a"/><path d="M455.3 118.5 L458.8 111.8 L457.9 118.5Z" fill="#6cb33a"/><path d="M456.2 118.5 L456.7 110.6 L458.9 118.5Z" fill="#5aa52e"/><path d="M457.9 118.5 L456.8 113.9 L460.6 118.5Z" fill="#5aa52e"/><path d="M459.5 118.5 L458.6 113.4 L461.2 118.5Z" fill="#a5d77a"/><path d="M460.4 118.5 L463.7 113.1 L462.9 118.5Z" fill="#8ccd55"/><path d="M462.6 118.5 L465.7 109.9 L464.1 118.5Z" fill="#5aa52e"/><path d="M463.2 118.5 L464.6 109.8 L465.6 118.5Z" fill="#a5d77a"/><path d="M465.1 118.5 L464.2 113.3 L467.1 118.5Z" fill="#8ccd55"/></g>
<rect x="526.5" y="126" width="15.0" height="141" fill="#ffffff"/>
<clipPath id="gc83"><rect x="526.5" y="126" width="15.0" height="141"/></clipPath>
<g clip-path="url(#gc83)" fill="#ffffff" stroke="#2e2a2a" stroke-width="1.05"><ellipse cx="530.1" cy="128.6" rx="3.0" ry="2.8" transform="rotate(-20 530.1 128.6)"/><ellipse cx="536.7" cy="129.0" rx="3.3" ry="2.1" transform="rotate(-0 536.7 129.0)"/><ellipse cx="533.4" cy="133.9" rx="3.0" ry="2.9" transform="rotate(-8 533.4 133.9)"/><ellipse cx="540.6" cy="134.6" rx="2.5" ry="2.0" transform="rotate(19 540.6 134.6)"/><ellipse cx="529.5" cy="139.5" rx="3.3" ry="2.1" transform="rotate(-22 529.5 139.5)"/><ellipse cx="536.8" cy="139.6" rx="3.2" ry="2.3" transform="rotate(25 536.8 139.6)"/><ellipse cx="532.9" cy="144.9" rx="2.8" ry="2.0" transform="rotate(-0 532.9 144.9)"/><ellipse cx="539.9" cy="144.8" rx="3.6" ry="2.8" transform="rotate(-0 539.9 144.8)"/><ellipse cx="530.0" cy="150.1" rx="3.3" ry="2.1" transform="rotate(30 530.0 150.1)"/><ellipse cx="536.5" cy="150.3" rx="3.1" ry="2.4" transform="rotate(-23 536.5 150.3)"/><ellipse cx="533.2" cy="155.8" rx="3.0" ry="2.7" transform="rotate(3 533.2 155.8)"/><ellipse cx="529.8" cy="160.9" rx="3.2" ry="2.6" transform="rotate(-28 529.8 160.9)"/><ellipse cx="536.7" cy="161.5" rx="3.2" ry="2.2" transform="rotate(-5 536.7 161.5)"/><ellipse cx="533.4" cy="166.4" rx="2.5" ry="2.8" transform="rotate(13 533.4 166.4)"/><ellipse cx="529.6" cy="172.1" rx="2.5" ry="2.0" transform="rotate(25 529.6 172.1)"/><ellipse cx="536.8" cy="171.9" rx="3.1" ry="2.7" transform="rotate(12 536.8 171.9)"/><ellipse cx="533.4" cy="177.5" rx="3.2" ry="2.5" transform="rotate(-21 533.4 177.5)"/><ellipse cx="540.0" cy="177.7" rx="3.1" ry="2.1" transform="rotate(8 540.0 177.7)"/><ellipse cx="529.7" cy="182.6" rx="3.2" ry="2.9" transform="rotate(-23 529.7 182.6)"/><ellipse cx="536.2" cy="183.0" rx="2.8" ry="2.5" transform="rotate(25 536.2 183.0)"/><ellipse cx="533.8" cy="188.0" rx="3.3" ry="2.1" transform="rotate(3 533.8 188.0)"/><ellipse cx="529.5" cy="193.2" rx="3.5" ry="2.8" transform="rotate(-26 529.5 193.2)"/><ellipse cx="537.1" cy="193.4" rx="3.3" ry="2.6" transform="rotate(6 537.1 193.4)"/><ellipse cx="534.1" cy="199.2" rx="3.2" ry="2.3" transform="rotate(-2 534.1 199.2)"/><ellipse cx="540.9" cy="198.7" rx="3.6" ry="2.1" transform="rotate(18 540.9 198.7)"/><ellipse cx="530.3" cy="204.3" rx="3.0" ry="2.2" transform="rotate(-13 530.3 204.3)"/><ellipse cx="537.3" cy="204.7" rx="3.2" ry="2.7" transform="rotate(14 537.3 204.7)"/><ellipse cx="533.4" cy="209.6" rx="3.4" ry="2.5" transform="rotate(-7 533.4 209.6)"/><ellipse cx="539.8" cy="210.0" rx="3.3" ry="2.2" transform="rotate(-11 539.8 210.0)"/><ellipse cx="529.7" cy="215.0" rx="3.5" ry="2.7" transform="rotate(-22 529.7 215.0)"/><ellipse cx="537.2" cy="215.4" rx="3.6" ry="2.1" transform="rotate(3 537.2 215.4)"/><ellipse cx="533.3" cy="220.5" rx="3.1" ry="2.5" transform="rotate(17 533.3 220.5)"/><ellipse cx="540.0" cy="220.5" rx="3.6" ry="2.3" transform="rotate(13 540.0 220.5)"/><ellipse cx="529.9" cy="226.0" rx="2.5" ry="2.3" transform="rotate(-9 529.9 226.0)"/><ellipse cx="536.4" cy="226.3" rx="2.9" ry="2.5" transform="rotate(-11 536.4 226.3)"/><ellipse cx="533.3" cy="231.2" rx="2.7" ry="2.1" transform="rotate(5 533.3 231.2)"/><ellipse cx="539.7" cy="231.7" rx="3.4" ry="2.8" transform="rotate(-0 539.7 231.7)"/><ellipse cx="529.5" cy="236.4" rx="3.0" ry="2.1" transform="rotate(-13 529.5 236.4)"/><ellipse cx="537.1" cy="236.9" rx="2.6" ry="2.2" transform="rotate(5 537.1 236.9)"/><ellipse cx="533.7" cy="242.3" rx="2.8" ry="2.1" transform="rotate(7 533.7 242.3)"/><ellipse cx="530.0" cy="247.2" rx="2.9" ry="2.9" transform="rotate(-28 530.0 247.2)"/><ellipse cx="537.4" cy="247.9" rx="3.3" ry="2.4" transform="rotate(22 537.4 247.9)"/><ellipse cx="533.5" cy="252.8" rx="3.3" ry="2.1" transform="rotate(-25 533.5 252.8)"/><ellipse cx="529.7" cy="258.2" rx="2.7" ry="2.8" transform="rotate(13 529.7 258.2)"/><ellipse cx="536.2" cy="258.4" rx="3.5" ry="2.8" transform="rotate(-28 536.2 258.4)"/><ellipse cx="533.3" cy="263.8" rx="3.1" ry="2.7" transform="rotate(-24 533.3 263.8)"/><ellipse cx="540.2" cy="263.9" rx="2.5" ry="2.2" transform="rotate(-4 540.2 263.9)"/></g>
<rect x="726.0" y="126" width="13.5" height="141" fill="#ffffff"/>
<clipPath id="gc86"><rect x="726.0" y="126" width="13.5" height="141"/></clipPath>
<g clip-path="url(#gc86)" fill="#ffffff" stroke="#2e2a2a" stroke-width="1.05"><ellipse cx="729.1" cy="128.7" rx="2.9" ry="2.4" transform="rotate(-4 729.1 128.7)"/><ellipse cx="736.4" cy="129.1" rx="3.5" ry="2.8" transform="rotate(18 736.4 129.1)"/><ellipse cx="733.0" cy="134.4" rx="2.6" ry="2.6" transform="rotate(17 733.0 134.4)"/><ellipse cx="729.3" cy="140.0" rx="2.9" ry="2.0" transform="rotate(-11 729.3 140.0)"/><ellipse cx="736.4" cy="139.8" rx="2.6" ry="2.3" transform="rotate(-19 736.4 139.8)"/><ellipse cx="733.1" cy="144.8" rx="3.0" ry="2.1" transform="rotate(-28 733.1 144.8)"/><ellipse cx="728.7" cy="150.4" rx="3.4" ry="2.2" transform="rotate(-1 728.7 150.4)"/><ellipse cx="736.2" cy="150.7" rx="3.1" ry="2.6" transform="rotate(4 736.2 150.7)"/><ellipse cx="732.4" cy="155.6" rx="3.3" ry="2.9" transform="rotate(-16 732.4 155.6)"/><ellipse cx="729.5" cy="161.6" rx="3.0" ry="2.1" transform="rotate(-21 729.5 161.6)"/><ellipse cx="736.3" cy="161.2" rx="3.0" ry="2.5" transform="rotate(17 736.3 161.2)"/><ellipse cx="732.5" cy="166.4" rx="2.9" ry="2.0" transform="rotate(-19 732.5 166.4)"/><ellipse cx="729.4" cy="172.3" rx="2.8" ry="2.2" transform="rotate(23 729.4 172.3)"/><ellipse cx="736.1" cy="172.1" rx="3.3" ry="2.2" transform="rotate(8 736.1 172.1)"/><ellipse cx="732.6" cy="177.7" rx="2.5" ry="2.6" transform="rotate(25 732.6 177.7)"/><ellipse cx="729.6" cy="182.5" rx="2.8" ry="2.6" transform="rotate(-5 729.6 182.5)"/><ellipse cx="736.1" cy="182.9" rx="2.6" ry="2.6" transform="rotate(29 736.1 182.9)"/><ellipse cx="732.9" cy="188.5" rx="3.1" ry="2.8" transform="rotate(28 732.9 188.5)"/><ellipse cx="729.6" cy="193.8" rx="2.8" ry="2.7" transform="rotate(22 729.6 193.8)"/><ellipse cx="735.8" cy="193.8" rx="3.5" ry="2.3" transform="rotate(-3 735.8 193.8)"/><ellipse cx="732.7" cy="199.1" rx="2.6" ry="2.2" transform="rotate(-20 732.7 199.1)"/><ellipse cx="729.8" cy="204.6" rx="3.6" ry="2.0" transform="rotate(-14 729.8 204.6)"/><ellipse cx="736.3" cy="204.4" rx="3.2" ry="2.4" transform="rotate(-9 736.3 204.4)"/><ellipse cx="732.6" cy="210.0" rx="2.8" ry="2.4" transform="rotate(-23 732.6 210.0)"/><ellipse cx="729.4" cy="215.3" rx="3.1" ry="2.2" transform="rotate(-2 729.4 215.3)"/><ellipse cx="736.8" cy="215.4" rx="3.5" ry="2.0" transform="rotate(6 736.8 215.4)"/><ellipse cx="732.2" cy="220.5" rx="3.6" ry="2.0" transform="rotate(20 732.2 220.5)"/><ellipse cx="729.5" cy="225.9" rx="3.1" ry="2.9" transform="rotate(4 729.5 225.9)"/><ellipse cx="736.4" cy="226.3" rx="2.7" ry="2.6" transform="rotate(10 736.4 226.3)"/><ellipse cx="732.1" cy="231.5" rx="2.7" ry="2.3" transform="rotate(-16 732.1 231.5)"/><ellipse cx="728.7" cy="237.2" rx="3.6" ry="2.4" transform="rotate(28 728.7 237.2)"/><ellipse cx="736.3" cy="236.9" rx="3.5" ry="2.6" transform="rotate(8 736.3 236.9)"/><ellipse cx="731.8" cy="242.0" rx="2.6" ry="2.1" transform="rotate(-28 731.8 242.0)"/><ellipse cx="729.6" cy="247.9" rx="2.7" ry="2.1" transform="rotate(24 729.6 247.9)"/><ellipse cx="735.8" cy="247.6" rx="3.1" ry="2.8" transform="rotate(23 735.8 247.6)"/><ellipse cx="733.1" cy="252.8" rx="2.8" ry="2.7" transform="rotate(-3 733.1 252.8)"/><ellipse cx="728.9" cy="258.7" rx="2.9" ry="2.5" transform="rotate(-12 728.9 258.7)"/><ellipse cx="735.8" cy="258.2" rx="3.4" ry="2.0" transform="rotate(3 735.8 258.2)"/><ellipse cx="733.1" cy="263.7" rx="3.5" ry="2.1" transform="rotate(-10 733.1 263.7)"/></g>
<rect x="526.5" y="252" width="213.0" height="15" fill="#ffffff"/>
<clipPath id="gc89"><rect x="526.5" y="252" width="213.0" height="15"/></clipPath>
<g clip-path="url(#gc89)" fill="#ffffff" stroke="#2e2a2a" stroke-width="1.05"><ellipse cx="529.7" cy="254.8" rx="2.7" ry="2.1" transform="rotate(6 529.7 254.8)"/><ellipse cx="537.4" cy="254.7" rx="3.2" ry="2.5" transform="rotate(16 537.4 254.7)"/><ellipse cx="544.5" cy="254.7" rx="3.6" ry="2.6" transform="rotate(10 544.5 254.7)"/><ellipse cx="550.7" cy="255.1" rx="2.7" ry="2.5" transform="rotate(-24 550.7 255.1)"/><ellipse cx="557.9" cy="254.9" rx="3.5" ry="2.9" transform="rotate(8 557.9 254.9)"/><ellipse cx="565.1" cy="254.8" rx="3.0" ry="2.1" transform="rotate(-23 565.1 254.8)"/><ellipse cx="572.5" cy="254.6" rx="3.6" ry="2.1" transform="rotate(7 572.5 254.6)"/><ellipse cx="578.7" cy="254.7" rx="3.4" ry="2.6" transform="rotate(-9 578.7 254.7)"/><ellipse cx="585.4" cy="255.0" rx="3.2" ry="2.6" transform="rotate(29 585.4 255.0)"/><ellipse cx="593.2" cy="254.7" rx="2.8" ry="2.5" transform="rotate(-7 593.2 254.7)"/><ellipse cx="600.2" cy="254.9" rx="3.4" ry="2.3" transform="rotate(-15 600.2 254.9)"/><ellipse cx="607.1" cy="254.4" rx="3.6" ry="2.8" transform="rotate(-15 607.1 254.4)"/><ellipse cx="613.7" cy="254.9" rx="2.8" ry="2.5" transform="rotate(-4 613.7 254.9)"/><ellipse cx="621.0" cy="254.4" rx="3.3" ry="2.4" transform="rotate(11 621.0 254.4)"/><ellipse cx="627.7" cy="254.7" rx="2.5" ry="2.1" transform="rotate(0 627.7 254.7)"/><ellipse cx="634.8" cy="254.7" rx="3.5" ry="2.1" transform="rotate(-6 634.8 254.7)"/><ellipse cx="642.4" cy="255.0" rx="3.5" ry="2.5" transform="rotate(-24 642.4 255.0)"/><ellipse cx="649.0" cy="254.5" rx="2.9" ry="2.1" transform="rotate(9 649.0 254.5)"/><ellipse cx="656.1" cy="255.2" rx="2.9" ry="2.8" transform="rotate(8 656.1 255.2)"/><ellipse cx="663.5" cy="254.7" rx="3.4" ry="2.2" transform="rotate(-26 663.5 254.7)"/><ellipse cx="670.2" cy="255.0" rx="2.6" ry="2.5" transform="rotate(12 670.2 255.0)"/><ellipse cx="676.9" cy="255.1" rx="2.5" ry="2.6" transform="rotate(-6 676.9 255.1)"/><ellipse cx="683.2" cy="255.0" rx="2.5" ry="2.0" transform="rotate(4 683.2 255.0)"/><ellipse cx="690.4" cy="254.6" rx="3.5" ry="2.5" transform="rotate(6 690.4 254.6)"/><ellipse cx="697.1" cy="254.5" rx="3.1" ry="2.5" transform="rotate(27 697.1 254.5)"/><ellipse cx="704.9" cy="254.9" rx="3.0" ry="2.4" transform="rotate(11 704.9 254.9)"/><ellipse cx="711.4" cy="254.4" rx="2.7" ry="2.2" transform="rotate(8 711.4 254.4)"/><ellipse cx="718.5" cy="254.9" rx="3.5" ry="2.1" transform="rotate(-29 718.5 254.9)"/><ellipse cx="725.2" cy="254.4" rx="2.9" ry="2.7" transform="rotate(-16 725.2 254.4)"/><ellipse cx="732.2" cy="254.4" rx="2.7" ry="2.5" transform="rotate(22 732.2 254.4)"/><ellipse cx="533.7" cy="259.9" rx="2.8" ry="2.8" transform="rotate(11 533.7 259.9)"/><ellipse cx="540.2" cy="260.4" rx="3.1" ry="2.4" transform="rotate(-29 540.2 260.4)"/><ellipse cx="547.4" cy="259.8" rx="2.6" ry="2.2" transform="rotate(23 547.4 259.8)"/><ellipse cx="554.9" cy="260.1" rx="2.9" ry="2.3" transform="rotate(9 554.9 260.1)"/><ellipse cx="561.8" cy="260.1" rx="3.0" ry="2.8" transform="rotate(-2 561.8 260.1)"/><ellipse cx="568.2" cy="260.4" rx="3.0" ry="2.3" transform="rotate(-15 568.2 260.4)"/><ellipse cx="575.7" cy="260.2" rx="2.7" ry="2.5" transform="rotate(-2 575.7 260.2)"/><ellipse cx="582.3" cy="260.1" rx="2.8" ry="2.3" transform="rotate(8 582.3 260.1)"/><ellipse cx="589.4" cy="260.5" rx="2.8" ry="2.4" transform="rotate(11 589.4 260.5)"/><ellipse cx="596.9" cy="260.6" rx="3.6" ry="2.5" transform="rotate(2 596.9 260.6)"/><ellipse cx="604.1" cy="260.3" rx="3.1" ry="2.1" transform="rotate(-25 604.1 260.3)"/><ellipse cx="610.6" cy="260.4" rx="3.3" ry="2.7" transform="rotate(-21 610.6 260.4)"/><ellipse cx="618.1" cy="260.0" rx="3.3" ry="2.6" transform="rotate(-19 618.1 260.0)"/><ellipse cx="625.3" cy="260.4" rx="2.6" ry="2.8" transform="rotate(-18 625.3 260.4)"/><ellipse cx="632.5" cy="260.1" rx="2.6" ry="2.3" transform="rotate(-9 632.5 260.1)"/><ellipse cx="639.5" cy="260.5" rx="3.0" ry="2.6" transform="rotate(26 639.5 260.5)"/><ellipse cx="646.4" cy="260.5" rx="2.9" ry="2.7" transform="rotate(-28 646.4 260.5)"/><ellipse cx="653.2" cy="260.5" rx="3.0" ry="2.9" transform="rotate(-24 653.2 260.5)"/><ellipse cx="659.9" cy="260.3" rx="2.8" ry="2.5" transform="rotate(-6 659.9 260.3)"/><ellipse cx="666.9" cy="260.4" rx="3.0" ry="2.7" transform="rotate(3 666.9 260.4)"/><ellipse cx="674.0" cy="260.2" rx="3.5" ry="2.5" transform="rotate(1 674.0 260.2)"/><ellipse cx="682.0" cy="259.9" rx="3.2" ry="2.5" transform="rotate(16 682.0 259.9)"/><ellipse cx="688.7" cy="260.4" rx="3.5" ry="2.8" transform="rotate(28 688.7 260.4)"/><ellipse cx="696.0" cy="260.1" rx="2.5" ry="2.3" transform="rotate(25 696.0 260.1)"/><ellipse cx="702.8" cy="260.0" rx="3.3" ry="2.9" transform="rotate(2 702.8 260.0)"/><ellipse cx="709.5" cy="260.2" rx="3.5" ry="2.4" transform="rotate(11 709.5 260.2)"/><ellipse cx="717.0" cy="260.0" rx="3.2" ry="2.5" transform="rotate(10 717.0 260.0)"/><ellipse cx="723.7" cy="260.6" rx="3.4" ry="2.4" transform="rotate(20 723.7 260.6)"/><ellipse cx="731.4" cy="260.0" rx="2.7" ry="2.1" transform="rotate(-14 731.4 260.0)"/><ellipse cx="737.9" cy="260.3" rx="2.7" ry="2.3" transform="rotate(-22 737.9 260.3)"/><ellipse cx="529.3" cy="265.8" rx="3.0" ry="2.6" transform="rotate(-22 529.3 265.8)"/><ellipse cx="537.1" cy="265.7" rx="3.3" ry="2.1" transform="rotate(-16 537.1 265.7)"/><ellipse cx="544.4" cy="265.7" rx="2.6" ry="2.4" transform="rotate(-21 544.4 265.7)"/><ellipse cx="550.9" cy="265.8" rx="3.4" ry="2.4" transform="rotate(-29 550.9 265.8)"/><ellipse cx="558.0" cy="265.3" rx="2.5" ry="2.8" transform="rotate(-11 558.0 265.3)"/><ellipse cx="565.6" cy="265.4" rx="2.7" ry="2.4" transform="rotate(3 565.6 265.4)"/><ellipse cx="572.2" cy="265.8" rx="3.0" ry="2.9" transform="rotate(-10 572.2 265.8)"/><ellipse cx="579.8" cy="265.6" rx="2.8" ry="2.6" transform="rotate(17 579.8 265.6)"/><ellipse cx="586.1" cy="265.7" rx="2.9" ry="2.1" transform="rotate(14 586.1 265.7)"/><ellipse cx="593.6" cy="265.2" rx="3.2" ry="2.1" transform="rotate(-6 593.6 265.2)"/><ellipse cx="600.2" cy="265.9" rx="2.9" ry="2.9" transform="rotate(11 600.2 265.9)"/><ellipse cx="607.1" cy="265.5" rx="3.3" ry="2.3" transform="rotate(9 607.1 265.5)"/><ellipse cx="614.3" cy="265.9" rx="2.8" ry="2.1" transform="rotate(-15 614.3 265.9)"/><ellipse cx="621.0" cy="266.0" rx="2.6" ry="2.7" transform="rotate(-6 621.0 266.0)"/><ellipse cx="627.5" cy="266.0" rx="2.7" ry="2.4" transform="rotate(6 627.5 266.0)"/><ellipse cx="634.0" cy="265.7" rx="2.7" ry="2.2" transform="rotate(-6 634.0 265.7)"/><ellipse cx="641.4" cy="265.5" rx="3.4" ry="2.4" transform="rotate(-28 641.4 265.5)"/><ellipse cx="648.4" cy="265.3" rx="3.4" ry="2.5" transform="rotate(-27 648.4 265.3)"/><ellipse cx="655.4" cy="266.0" rx="3.5" ry="2.1" transform="rotate(-19 655.4 266.0)"/><ellipse cx="663.3" cy="265.7" rx="2.9" ry="2.0" transform="rotate(4 663.3 265.7)"/><ellipse cx="669.9" cy="265.6" rx="3.1" ry="2.5" transform="rotate(8 669.9 265.6)"/><ellipse cx="676.4" cy="265.8" rx="2.9" ry="2.5" transform="rotate(13 676.4 265.8)"/><ellipse cx="683.6" cy="265.5" rx="3.2" ry="2.5" transform="rotate(9 683.6 265.5)"/><ellipse cx="690.6" cy="265.9" rx="3.5" ry="2.5" transform="rotate(-17 690.6 265.9)"/><ellipse cx="697.7" cy="265.6" rx="3.3" ry="2.1" transform="rotate(27 697.7 265.6)"/><ellipse cx="704.3" cy="265.4" rx="2.8" ry="2.4" transform="rotate(28 704.3 265.4)"/><ellipse cx="711.7" cy="265.7" rx="3.3" ry="2.2" transform="rotate(-19 711.7 265.7)"/><ellipse cx="718.4" cy="265.6" rx="3.3" ry="2.2" transform="rotate(12 718.4 265.6)"/><ellipse cx="725.9" cy="265.7" rx="3.5" ry="2.5" transform="rotate(18 725.9 265.7)"/><ellipse cx="732.7" cy="266.0" rx="3.1" ry="2.5" transform="rotate(8 732.7 266.0)"/></g>
<path d="M603.5 117.5 H714.5 Q716.0 117.5 716.0 120 V170 Q723.5 172 723.5 178 V190 Q723.5 196 716.0 197 V240 Q716.0 242 715.0 244 L711.5 252 H554.5 Q547.5 252 547.5 244 V197 Q543.5 196 543.5 190 V178 Q543.5 172 547.5 170 V151 Q547.5 141 557.5 141 H590.5 Q603.5 141 603.5 130Z" fill="#7e7c7a" stroke="#4a4644" stroke-width="0.9"/>
<g stroke="#55514f" stroke-width="0.8">
<line x1="603.5" y1="135" x2="715.5" y2="135"/>
<line x1="604.5" y1="143" x2="715.5" y2="143"/>
<line x1="547.5" y1="181" x2="723.5" y2="181"/>
<line x1="547.5" y1="189" x2="723.5" y2="189"/>
<line x1="547.5" y1="240.5" x2="715.5" y2="240.5"/>
</g>
<g stroke="#8a8888" stroke-width="0.7"><line x1="547.5" y1="173" x2="723.5" y2="173"/></g>
<path d="M556.5 151 Q556.5 148 560.5 148 H604.5 L700 152 V251 H556.5Z" fill="#ffffff"/>
<rect x="556.5" y="182.5" width="143.5" height="68.5" fill="url(#water)"/>
<line x1="556.5" y1="182.5" x2="700" y2="182.5" stroke="#3a4a55" stroke-width="0.7"/>
<line x1="556.5" y1="251" x2="700" y2="251" stroke="#3a3a3a" stroke-width="1"/>
<path d="M541.3 126 V252 H725.8 V126" fill="none" stroke="#2a2626" stroke-width="1"/>
<rect x="523.5" y="117.5" width="79.5" height="8.5" fill="#7cc144"/>
<g opacity="0.85"><path d="M523.3 118.0 L524.3 110.4 L525.7 118.0Z" fill="#8ccd55"/><path d="M525.9 118.0 L526.5 112.4 L527.4 118.0Z" fill="#5aa52e"/><path d="M527.6 118.0 L527.2 113.2 L529.5 118.0Z" fill="#6cb33a"/><path d="M529.5 118.0 L530.1 107.8 L531.1 118.0Z" fill="#8ccd55"/><path d="M530.4 118.0 L532.3 108.2 L533.0 118.0Z" fill="#6cb33a"/><path d="M532.6 118.0 L532.1 108.3 L535.0 118.0Z" fill="#5aa52e"/><path d="M534.9 118.0 L533.3 109.1 L536.6 118.0Z" fill="#8ccd55"/><path d="M535.8 118.0 L539.3 109.1 L538.3 118.0Z" fill="#6cb33a"/><path d="M538.1 118.0 L538.3 111.4 L539.9 118.0Z" fill="#6cb33a"/><path d="M538.9 118.0 L538.6 108.0 L540.8 118.0Z" fill="#a5d77a"/><path d="M539.4 118.0 L540.4 107.6 L541.9 118.0Z" fill="#a5d77a"/><path d="M540.5 118.0 L540.1 108.7 L542.7 118.0Z" fill="#5aa52e"/><path d="M542.5 118.0 L545.3 109.5 L544.8 118.0Z" fill="#5aa52e"/><path d="M543.8 118.0 L546.7 109.4 L546.6 118.0Z" fill="#6cb33a"/><path d="M545.0 118.0 L546.0 107.5 L547.1 118.0Z" fill="#6cb33a"/><path d="M546.7 118.0 L546.4 113.3 L549.2 118.0Z" fill="#a5d77a"/><path d="M548.9 118.0 L550.9 107.7 L551.0 118.0Z" fill="#8ccd55"/><path d="M551.0 118.0 L549.8 109.8 L552.9 118.0Z" fill="#8ccd55"/><path d="M552.4 118.0 L553.8 112.7 L554.0 118.0Z" fill="#5aa52e"/><path d="M553.7 118.0 L554.9 111.5 L556.4 118.0Z" fill="#5aa52e"/><path d="M555.1 118.0 L555.0 110.0 L556.5 118.0Z" fill="#a5d77a"/><path d="M556.6 118.0 L558.5 109.8 L559.1 118.0Z" fill="#8ccd55"/><path d="M558.2 118.0 L559.0 111.9 L559.9 118.0Z" fill="#8ccd55"/><path d="M560.0 118.0 L561.5 113.3 L562.5 118.0Z" fill="#8ccd55"/><path d="M562.2 118.0 L563.8 109.7 L564.1 118.0Z" fill="#5aa52e"/><path d="M564.2 118.0 L566.5 112.1 L565.8 118.0Z" fill="#6cb33a"/><path d="M565.2 118.0 L567.4 108.9 L567.3 118.0Z" fill="#8ccd55"/><path d="M566.8 118.0 L567.1 110.2 L568.3 118.0Z" fill="#5aa52e"/><path d="M568.2 118.0 L570.7 108.2 L570.3 118.0Z" fill="#8ccd55"/><path d="M570.4 118.0 L569.5 107.5 L572.1 118.0Z" fill="#a5d77a"/><path d="M571.2 118.0 L573.9 111.1 L573.9 118.0Z" fill="#6cb33a"/><path d="M572.5 118.0 L572.3 109.2 L574.7 118.0Z" fill="#5aa52e"/><path d="M573.4 118.0 L576.6 112.4 L575.6 118.0Z" fill="#5aa52e"/><path d="M574.8 118.0 L575.4 107.6 L577.3 118.0Z" fill="#a5d77a"/><path d="M577.0 118.0 L579.6 108.0 L578.8 118.0Z" fill="#8ccd55"/><path d="M578.3 118.0 L576.7 112.0 L579.9 118.0Z" fill="#5aa52e"/><path d="M579.2 118.0 L578.0 113.4 L581.2 118.0Z" fill="#5aa52e"/><path d="M581.0 118.0 L580.7 109.6 L583.4 118.0Z" fill="#8ccd55"/><path d="M582.6 118.0 L585.4 113.0 L585.2 118.0Z" fill="#5aa52e"/><path d="M584.5 118.0 L584.5 113.5 L586.8 118.0Z" fill="#6cb33a"/><path d="M586.4 118.0 L585.9 108.0 L588.3 118.0Z" fill="#6cb33a"/><path d="M588.1 118.0 L590.0 111.1 L590.0 118.0Z" fill="#6cb33a"/><path d="M590.0 118.0 L589.0 108.7 L592.2 118.0Z" fill="#a5d77a"/><path d="M592.0 118.0 L595.5 111.1 L594.6 118.0Z" fill="#6cb33a"/><path d="M594.6 118.0 L597.8 110.1 L596.1 118.0Z" fill="#5aa52e"/><path d="M595.3 118.0 L594.9 113.4 L597.5 118.0Z" fill="#6cb33a"/><path d="M596.5 118.0 L596.9 111.3 L598.9 118.0Z" fill="#8ccd55"/><path d="M598.2 118.0 L598.6 109.9 L600.6 118.0Z" fill="#5aa52e"/><path d="M600.2 118.0 L599.0 110.6 L602.5 118.0Z" fill="#a5d77a"/></g>
<rect x="714.5" y="118" width="28.5" height="8" fill="#7cc144"/>
<g opacity="0.85"><path d="M714.6 118.5 L715.6 111.8 L716.4 118.5Z" fill="#5aa52e"/><path d="M715.1 118.5 L717.1 111.1 L717.6 118.5Z" fill="#5aa52e"/><path d="M715.9 118.5 L716.8 110.2 L718.7 118.5Z" fill="#6cb33a"/><path d="M718.2 118.5 L719.2 113.3 L719.8 118.5Z" fill="#8ccd55"/><path d="M718.8 118.5 L721.3 110.4 L721.5 118.5Z" fill="#8ccd55"/><path d="M720.7 118.5 L722.7 111.9 L722.7 118.5Z" fill="#a5d77a"/><path d="M721.8 118.5 L724.8 108.5 L723.8 118.5Z" fill="#8ccd55"/><path d="M722.8 118.5 L722.1 108.6 L725.3 118.5Z" fill="#6cb33a"/><path d="M725.0 118.5 L726.9 108.5 L726.9 118.5Z" fill="#8ccd55"/><path d="M726.2 118.5 L729.7 111.5 L728.9 118.5Z" fill="#8ccd55"/><path d="M727.5 118.5 L729.5 113.9 L729.3 118.5Z" fill="#5aa52e"/><path d="M728.6 118.5 L730.2 109.4 L730.4 118.5Z" fill="#a5d77a"/><path d="M729.3 118.5 L728.9 110.6 L731.9 118.5Z" fill="#5aa52e"/><path d="M732.0 118.5 L731.7 113.2 L733.5 118.5Z" fill="#6cb33a"/><path d="M733.0 118.5 L732.5 108.7 L735.4 118.5Z" fill="#a5d77a"/><path d="M734.0 118.5 L736.7 113.7 L736.6 118.5Z" fill="#5aa52e"/><path d="M735.2 118.5 L735.9 109.4 L737.2 118.5Z" fill="#8ccd55"/><path d="M737.6 118.5 L736.0 112.2 L739.2 118.5Z" fill="#6cb33a"/><path d="M738.4 118.5 L739.4 112.2 L740.3 118.5Z" fill="#8ccd55"/><path d="M739.7 118.5 L740.4 111.6 L742.0 118.5Z" fill="#a5d77a"/></g>
<rect x="300.5" y="93" width="10" height="65" fill="url(#pipe)" stroke="#3d3d3d" stroke-width="0.7"/>
<path d="M305.5 86 L308.5 91 L306.5 91 L306.5 93 L304.5 93 L304.5 91 L302.5 91Z" fill="#222"/>
<rect x="294" y="138" width="22" height="3.5" fill="#8c8a8a" stroke="#3d3d3d" stroke-width="0.6"/>
<rect x="298" y="157" width="13" height="5" fill="#d9d4c4" stroke="#6b6040" stroke-width="0.8"/>
<rect x="300" y="162" width="9" height="2.5" fill="#c8c8c8" stroke="#333" stroke-width="0.5"/>
<path d="M296.5 169 Q297 164.4 301 164.4 H308 Q312.5 164.4 312.8 169Z" fill="#b8bcc0" stroke="#222" stroke-width="0.7"/>
<rect x="286" y="166.5" width="43" height="1.2" fill="#1a1a1a"/>
<rect x="317.5" y="169" width="4.2" height="81.5" fill="url(#strip)" stroke="#333" stroke-width="0.6"/>
<rect x="290.5" y="169.4" width="27.5" height="81" fill="url(#steel)" stroke="#2e3338" stroke-width="0.8"/>
<rect x="290.5" y="169.4" width="28.5" height="5.8" fill="#9aa2a8" stroke="#1c1c1c" stroke-width="1"/>
<line x1="290.5" y1="172.3" x2="319" y2="172.3" stroke="#1c1c1c" stroke-width="0.9"/>
<circle cx="304.6" cy="188" r="6.9" fill="#e8483a"/>
<g stroke="#f6c7bf" stroke-width="0.5" fill="none"><path d="M298 185 Q304 186 310 188"/><path d="M298 188 Q304 188 310 188.5"/><path d="M298 191 Q304 190 310 189"/></g>
<path d="M298.5 202.5 L300 197 H303 L302 201 H304 L305 197 H307 L305.8 202.5Z" fill="#2b4c9a"/>
<path fill-rule="evenodd" d="M305.5 202.5 L307 197 H312.5 Q314 197 313.6 198.5 L313.2 200 Q312.8 201.2 311.4 201.2 H308.5 L308.2 202.5Z M309 199.8 H311 L311.3 198.4 H309.4Z" fill="#2b4c9a"/>
<rect x="298" y="213.3" width="2" height="1.6" fill="#e8483a"/><rect x="300.5" y="213.6" width="9" height="1.2" fill="#4a62a8"/>
<rect x="291" y="225" width="12.5" height="8.5" fill="#0e0e0e"/><rect x="306" y="225" width="10.5" height="8.5" fill="#0e0e0e"/>
<line x1="291" y1="229" x2="316.5" y2="229" stroke="#444" stroke-width="0.4"/>
<line x1="290.5" y1="244.3" x2="321.5" y2="244.3" stroke="#1c1c1c" stroke-width="1"/>
<path d="M311.8 93 V140 Q312 152 316 160 Q320 166 323.5 170 V186 Q324 190 330 190 Q338 189 341 180" stroke="#2a4570" stroke-width="1.8" fill="none"/>
<rect x="321.5" y="176" width="3.6" height="9.6" fill="#111"/>
<path d="M324.5 186 V204" stroke="#24395e" stroke-width="2.2" fill="none"/>
<g transform="rotate(-35 346 171)"><ellipse cx="346" cy="171" rx="8.5" ry="5.8" fill="#3b302a" stroke="#1a1a1a" stroke-width="0.7"/><ellipse cx="345.2" cy="169.8" rx="7" ry="4.6" fill="#ea6d32"/><ellipse cx="345" cy="169.5" rx="4.5" ry="2.6" fill="none" stroke="#c9541f" stroke-width="0.6"/></g>
<path d="M338 178 l4 -3" stroke="#222" stroke-width="2.5"/>
<ellipse cx="325.5" cy="212.5" rx="6.3" ry="8.5" fill="#3b302a" stroke="#1a1a1a" stroke-width="0.7"/>
<ellipse cx="326.6" cy="212.3" rx="4.8" ry="7.3" fill="#ea6d32"/>
<ellipse cx="327" cy="212.3" rx="2.6" ry="5" fill="none" stroke="#c9541f" stroke-width="0.6"/>
<g stroke="#1e1e1e" stroke-width="0.8">
<line x1="328" y1="194.8" x2="395" y2="194.8"/><line x1="323" y1="225" x2="382" y2="225"/>
<line x1="393.5" y1="195" x2="393.5" y2="250"/><line x1="378.5" y1="226" x2="378.5" y2="250"/>
<line x1="282" y1="225.3" x2="290" y2="225.3"/><line x1="282" y1="230" x2="288" y2="230"/>
</g>
<g stroke="#2a2a2a" stroke-width="0.8" opacity="0.85">
<line x1="337" y1="197.5" x2="350" y2="197.5"/>
<line x1="355" y1="197.5" x2="370" y2="197.5"/>
<line x1="343" y1="199.5" x2="358" y2="199.5"/>
<line x1="362" y1="199.5" x2="378" y2="199.5"/>
<line x1="332" y1="229.5" x2="346" y2="229.5"/>
<line x1="352" y1="229.5" x2="366" y2="229.5"/>
<line x1="340" y1="232.5" x2="356" y2="232.5"/>
<line x1="362" y1="232.5" x2="376" y2="232.5"/>
<line x1="335" y1="234" x2="348" y2="234"/>
<line x1="337" y1="165.8" x2="346" y2="165.8"/>
<line x1="351" y1="165.8" x2="356" y2="165.8"/>
</g>
<g fill="#1e1e1e"><path d="M393.5 195 l-1.5 4 h3z"/><path d="M393.5 250 l-1.5 -4 h3z"/><path d="M378.5 226 l-1.5 4 h3z"/><path d="M378.5 250 l-1.5 -4 h3z"/></g>
<text x="391.5" y="224" font-family="Liberation Sans" font-weight="bold" font-size="7" fill="#1e1e1e" transform="rotate(-90 391.5 224)" text-anchor="middle">s</text>
<text x="376.5" y="239" font-family="Liberation Sans" font-weight="bold" font-size="7" fill="#1e1e1e" transform="rotate(-90 376.5 239)" text-anchor="middle">t</text>
<path d="M574 93 V224 Q574 237.5 587.5 237.5 H599 V226 H588 Q583.5 226 583.5 221.5 V93Z" fill="url(#pipe)" stroke="#3d3d3d" stroke-width="0.7"/>
<path d="M579 86 L582 91 L580 91 L580 93 L578 93 L578 91 L576 91Z" fill="#222"/>
<rect x="568" y="138" width="23" height="3.5" fill="#8c8a8a" stroke="#3d3d3d" stroke-width="0.6"/>
<rect x="598.5" y="224.5" width="6" height="14" fill="url(#hsteel)" stroke="#333" stroke-width="0.6"/>
<path d="M584.8 93 V150 Q585.5 180 591 215 Q594 236 606 242" stroke="#2a4570" stroke-width="1.5" fill="none"/>
<rect x="604.5" y="216" width="92.2" height="23" rx="1.5" fill="url(#hsteel)" stroke="#1e2226" stroke-width="1"/>
<line x1="607.5" y1="216.5" x2="607.5" y2="238.5" stroke="#222" stroke-width="0.8"/>
<line x1="610" y1="216.5" x2="610" y2="238.5" stroke="#222" stroke-width="0.8"/>
<line x1="612.5" y1="216.5" x2="612.5" y2="238.5" stroke="#222" stroke-width="0.8"/>
<rect x="688.5" y="216" width="8.2" height="23" fill="url(#hsteel)" stroke="#1e2226" stroke-width="0.9"/>
<rect x="692" y="228" width="3" height="5" fill="#222"/>
<path d="M663 214.5 Q663 212.3 665.5 212.3 H674 Q676.5 212.3 676.5 214.5 V237.8 H663Z" fill="#ec7535" stroke="#2a2020" stroke-width="0.9"/>
<line x1="663" y1="224.5" x2="676.5" y2="224.5" stroke="#2a2020" stroke-width="1.6"/>
<rect x="604.5" y="239" width="92" height="6.5" fill="#f4f6f7" stroke="#222" stroke-width="0.8"/>
<line x1="604.5" y1="242.3" x2="696.5" y2="242.3" stroke="#333" stroke-width="0.5"/>
<rect x="612.8" y="231.8" width="9" height="17.2" fill="#a9a9a9" stroke="#2a2a2a" stroke-width="0.7"/>
<rect x="665" y="238.5" width="10" height="9" fill="#a9a9a9" stroke="#2a2a2a" stroke-width="0.7"/>
<ellipse cx="670" cy="249" rx="4" ry="2" fill="#222"/>
<rect x="615.8" y="206" width="3.7" height="26" fill="#b5b5b5" stroke="#333" stroke-width="0.5"/>
<rect x="614.3" y="197.3" width="6" height="10.5" rx="1" fill="#3a2a20"/>
<rect x="613.5" y="207.7" width="7.5" height="3" fill="#e8692f"/>
<path d="M616 209 Q598 209 591 222 Q587 234 596 240 Q600 243 604.5 244.5" stroke="#2a4570" stroke-width="1.8" fill="none"/>
<path d="M619.5 209 Q630 205 643 197" stroke="#2a4570" stroke-width="1.8" fill="none"/>
<path d="M620.5 210 Q632 215 642 225.5" stroke="#2a4570" stroke-width="1.8" fill="none"/>
<circle cx="654" cy="191" r="9.6" fill="#ea6d32" stroke="#3a2a20" stroke-width="0.9"/>
<circle cx="654" cy="191" r="6.5" fill="none" stroke="#c9541f" stroke-width="0.7"/>
<circle cx="651.7" cy="233.3" r="9.6" fill="#ea6d32" stroke="#3a2a20" stroke-width="0.9"/>
<circle cx="651.7" cy="233.3" r="6.5" fill="none" stroke="#c9541f" stroke-width="0.7"/>
<rect x="639.5" y="222.5" width="5" height="6" fill="#2e2a28" transform="rotate(-45 642 225.5)"/>
<rect x="641" y="195" width="5" height="5" fill="#2e2a28" transform="rotate(-30 643 197)"/>
<g stroke="#2a2a2a" stroke-width="0.8" opacity="0.85">
<line x1="561" y1="185.5" x2="570" y2="185.5"/>
<line x1="562" y1="187" x2="568" y2="187"/>
<line x1="588" y1="185.5" x2="592" y2="185.5"/>
<line x1="604" y1="185.5" x2="612" y2="185.5"/>
<line x1="606" y1="187" x2="611" y2="187"/>
<line x1="624" y1="185.5" x2="632" y2="185.5"/>
<line x1="560" y1="226" x2="566" y2="226"/>
<line x1="560" y1="229" x2="567" y2="229"/>
<line x1="560" y1="232" x2="565" y2="232"/>
</g>
<g stroke="#333" stroke-width="0.7">
<line x1="692" y1="236.2" x2="755" y2="236.2"/><line x1="692" y1="252.5" x2="755" y2="252.5"/>
<line x1="753.5" y1="207" x2="753.5" y2="236"/><line x1="753.5" y1="253" x2="753.5" y2="266"/>
</g>
<g fill="#333"><path d="M753.5 236 l-1.5 -4 h3z"/><path d="M753.5 252.7 l-1.5 4 h3z"/></g>
<text x="749.5" y="217" font-family="Liberation Sans" font-weight="bold" font-size="7" fill="#333" transform="rotate(-90 749.5 217)" text-anchor="middle">u</text>
</svg>
<svg width="800" height="800" viewBox="0 0 800 800"><line x1="49" y1="302" x2="497" y2="302" stroke="#6e6e6e" stroke-width="1.6"/><line x1="49" y1="340" x2="497" y2="340" stroke="#6e6e6e" stroke-width="1.6"/><line x1="49" y1="512" x2="497" y2="512" stroke="#6e6e6e" stroke-width="1.6"/><line x1="49" y1="355.64" x2="201" y2="355.64" stroke="#949494" stroke-width="1"/><line x1="258" y1="355.64" x2="315" y2="355.64" stroke="#949494" stroke-width="1"/><line x1="364" y1="355.64" x2="497" y2="355.64" stroke="#949494" stroke-width="1"/><line x1="49" y1="371.27" x2="201" y2="371.27" stroke="#949494" stroke-width="1"/><line x1="258" y1="371.27" x2="315" y2="371.27" stroke="#949494" stroke-width="1"/><line x1="364" y1="371.27" x2="497" y2="371.27" stroke="#949494" stroke-width="1"/><line x1="49" y1="386.91" x2="201" y2="386.91" stroke="#949494" stroke-width="1"/><line x1="258" y1="386.91" x2="315" y2="386.91" stroke="#949494" stroke-width="1"/><line x1="364" y1="386.91" x2="497" y2="386.91" stroke="#949494" stroke-width="1"/><line x1="49" y1="402.55" x2="201" y2="402.55" stroke="#949494" stroke-width="1"/><line x1="258" y1="402.55" x2="315" y2="402.55" stroke="#949494" stroke-width="1"/><line x1="364" y1="402.55" x2="497" y2="402.55" stroke="#949494" stroke-width="1"/><line x1="49" y1="418.18" x2="201" y2="418.18" stroke="#6e6e6e" stroke-width="1.3"/><line x1="258" y1="418.18" x2="315" y2="418.18" stroke="#6e6e6e" stroke-width="1.3"/><line x1="364" y1="418.18" x2="497" y2="418.18" stroke="#6e6e6e" stroke-width="1.3"/><line x1="49" y1="433.82" x2="201" y2="433.82" stroke="#949494" stroke-width="1"/><line x1="258" y1="433.82" x2="315" y2="433.82" stroke="#949494" stroke-width="1"/><line x1="364" y1="433.82" x2="497" y2="433.82" stroke="#949494" stroke-width="1"/><line x1="49" y1="449.45" x2="201" y2="449.45" stroke="#949494" stroke-width="1"/><line x1="258" y1="449.45" x2="315" y2="449.45" stroke="#949494" stroke-width="1"/><line x1="364" y1="449.45" x2="497" y2="449.45" stroke="#949494" stroke-width="1"/><line x1="49" y1="465.09" x2="201" y2="465.09" stroke="#949494" stroke-width="1"/><line x1="258" y1="465.09" x2="315" y2="465.09" stroke="#949494" stroke-width="1"/><line x1="364" y1="465.09" x2="497" y2="465.09" stroke="#949494" stroke-width="1"/><line x1="49" y1="480.73" x2="201" y2="480.73" stroke="#6e6e6e" stroke-width="1.3"/><line x1="258" y1="480.73" x2="315" y2="480.73" stroke="#6e6e6e" stroke-width="1.3"/><line x1="364" y1="480.73" x2="497" y2="480.73" stroke="#6e6e6e" stroke-width="1.3"/><line x1="49" y1="496.36" x2="201" y2="496.36" stroke="#949494" stroke-width="1"/><line x1="258" y1="496.36" x2="315" y2="496.36" stroke="#949494" stroke-width="1"/><line x1="364" y1="496.36" x2="497" y2="496.36" stroke="#949494" stroke-width="1"/><line x1="201" y1="302" x2="201" y2="512" stroke="#626262" stroke-width="1.5"/><line x1="258" y1="302" x2="258" y2="512" stroke="#626262" stroke-width="1.5"/><line x1="315" y1="302" x2="315" y2="512" stroke="#626262" stroke-width="1.5"/><line x1="413.5" y1="302" x2="413.5" y2="512" stroke="#626262" stroke-width="1.5"/><line x1="125.5" y1="321" x2="125.5" y2="512" stroke="#6e6e6e" stroke-width="1.2"/><line x1="364" y1="321" x2="364" y2="512" stroke="#6e6e6e" stroke-width="1.2"/><line x1="455" y1="321" x2="455" y2="512" stroke="#6e6e6e" stroke-width="1.2"/><line x1="527" y1="302" x2="754" y2="302" stroke="#6e6e6e" stroke-width="1.6"/><line x1="527" y1="340" x2="754" y2="340" stroke="#6e6e6e" stroke-width="1.6"/><line x1="527" y1="512" x2="754" y2="512" stroke="#6e6e6e" stroke-width="1.6"/><line x1="527" y1="387.8" x2="653.5" y2="387.8" stroke="#6e6e6e" stroke-width="1.3"/><line x1="527" y1="454.4" x2="653.5" y2="454.4" stroke="#6e6e6e" stroke-width="1.3"/><line x1="603" y1="302" x2="603" y2="512" stroke="#626262" stroke-width="1.5"/><line x1="653.5" y1="321" x2="653.5" y2="512" stroke="#6e6e6e" stroke-width="1.2"/><line x1="704.5" y1="321" x2="704.5" y2="512" stroke="#6e6e6e" stroke-width="1.2"/><line x1="50" y1="590" x2="384" y2="590" stroke="#6e6e6e" stroke-width="1.6"/><line x1="50" y1="628" x2="384" y2="628" stroke="#6e6e6e" stroke-width="1.6"/><line x1="50" y1="795" x2="384" y2="795" stroke="#6e6e6e" stroke-width="1.6"/><line x1="50" y1="643.18" x2="384" y2="643.18" stroke="#949494" stroke-width="1"/><line x1="50" y1="658.36" x2="384" y2="658.36" stroke="#949494" stroke-width="1"/><line x1="50" y1="673.55" x2="384" y2="673.55" stroke="#949494" stroke-width="1"/><line x1="50" y1="688.73" x2="384" y2="688.73" stroke="#949494" stroke-width="1"/><line x1="50" y1="703.91" x2="384" y2="703.91" stroke="#6e6e6e" stroke-width="1.3"/><line x1="50" y1="719.09" x2="384" y2="719.09" stroke="#949494" stroke-width="1"/><line x1="50" y1="734.27" x2="384" y2="734.27" stroke="#949494" stroke-width="1"/><line x1="50" y1="749.45" x2="384" y2="749.45" stroke="#949494" stroke-width="1"/><line x1="50" y1="764.64" x2="384" y2="764.64" stroke="#6e6e6e" stroke-width="1.3"/><line x1="50" y1="779.82" x2="384" y2="779.82" stroke="#949494" stroke-width="1"/><line x1="125.75" y1="590" x2="125.75" y2="795" stroke="#626262" stroke-width="1.5"/><line x1="254" y1="608" x2="254" y2="795" stroke="#6e6e6e" stroke-width="1.2"/><line x1="421" y1="590" x2="754" y2="590" stroke="#6e6e6e" stroke-width="1.6"/><line x1="421" y1="628" x2="754" y2="628" stroke="#6e6e6e" stroke-width="1.6"/><line x1="421" y1="795" x2="754" y2="795" stroke="#6e6e6e" stroke-width="1.6"/><line x1="421" y1="643.18" x2="754" y2="643.18" stroke="#949494" stroke-width="1"/><line x1="421" y1="658.36" x2="754" y2="658.36" stroke="#949494" stroke-width="1"/><line x1="421" y1="673.55" x2="754" y2="673.55" stroke="#949494" stroke-width="1"/><line x1="421" y1="688.73" x2="754" y2="688.73" stroke="#949494" stroke-width="1"/><line x1="421" y1="703.91" x2="754" y2="703.91" stroke="#6e6e6e" stroke-width="1.3"/><line x1="421" y1="719.09" x2="754" y2="719.09" stroke="#949494" stroke-width="1"/><line x1="421" y1="734.27" x2="754" y2="734.27" stroke="#949494" stroke-width="1"/><line x1="421" y1="749.45" x2="754" y2="749.45" stroke="#949494" stroke-width="1"/><line x1="421" y1="764.64" x2="754" y2="764.64" stroke="#6e6e6e" stroke-width="1.3"/><line x1="421" y1="779.82" x2="754" y2="779.82" stroke="#949494" stroke-width="1"/><line x1="497" y1="590" x2="497" y2="795" stroke="#626262" stroke-width="1.5"/><line x1="560.5" y1="608" x2="560.5" y2="795" stroke="#6e6e6e" stroke-width="1.2"/><line x1="625.5" y1="608" x2="625.5" y2="795" stroke="#6e6e6e" stroke-width="1.2"/><line x1="690" y1="608" x2="690" y2="795" stroke="#6e6e6e" stroke-width="1.2"/></svg>
<div class="t bd" style="left:125.00px;top:306.99px;font-size:11px;font-weight:bold;transform:translateX(-50%) scaleX(0.9);transform-origin:50% 0;color:#2e2a2b;">ТИП</div><div class="t bd" style="left:52.00px;top:325.69px;font-size:11px;font-weight:bold;transform:scaleX(0.925);transform-origin:0 0;color:#2e2a2b;">Однофазный</div><div class="t bd" style="left:129.50px;top:325.69px;font-size:11px;font-weight:bold;transform:scaleX(0.925);transform-origin:0 0;color:#2e2a2b;">Трехфазный</div><div class="t bd" style="left:229.50px;top:306.99px;font-size:11px;font-weight:bold;transform:translateX(-50%) scaleX(0.9);transform-origin:50% 0;color:#2e2a2b;">ПАТРУБОК</div><div class="t bd" style="left:229.50px;top:325.69px;font-size:11px;font-weight:bold;transform:translateX(-50%) scaleX(0.9);transform-origin:50% 0;color:#2e2a2b;">DN</div><div class="t bd" style="left:286.50px;top:306.69px;font-size:11px;font-weight:bold;transform:translateX(-50%) scaleX(0.9);transform-origin:50% 0;color:#2e2a2b;">ЧИСЛО</div><div class="t bd" style="left:286.50px;top:319.39px;font-size:11px;font-weight:bold;transform:translateX(-50%) scaleX(0.915);transform-origin:50% 0;color:#2e2a2b;">СТУПЕНЕЙ</div><div class="t bd" style="left:364.25px;top:306.99px;font-size:11px;font-weight:bold;transform:translateX(-50%) scaleX(0.915);transform-origin:50% 0;color:#2e2a2b;">РАЗМЕРЫ, мм</div><div class="t" style="left:339.50px;top:325.69px;font-size:11px;font-weight:normal;transform:translateX(-50%) scaleX(0.9);transform-origin:50% 0;color:#2e2a2b;">Ø</div><div class="t" style="left:388.75px;top:325.69px;font-size:11px;font-weight:normal;transform:translateX(-50%) scaleX(0.9);transform-origin:50% 0;color:#2e2a2b;">h</div><div class="t bd" style="left:455.25px;top:306.99px;font-size:11px;font-weight:bold;transform:translateX(-50%) scaleX(0.9);transform-origin:50% 0;color:#2e2a2b;">кг</div><div class="t" style="left:434.25px;top:325.69px;font-size:11px;font-weight:normal;transform:translateX(-50%) scaleX(0.9);transform-origin:50% 0;color:#2e2a2b;">1~</div><div class="t" style="left:476.00px;top:325.69px;font-size:11px;font-weight:normal;transform:translateX(-50%) scaleX(0.9);transform-origin:50% 0;color:#2e2a2b;">3~</div><div class="t bd" style="left:52.00px;top:344.19px;font-size:11px;font-weight:bold;transform:scaleX(0.925);transform-origin:0 0;color:#2e2a2b;">UPm 2/2-GE</div><div class="t bd" style="left:129.50px;top:344.19px;font-size:11px;font-weight:bold;transform:scaleX(0.925);transform-origin:0 0;color:#2e2a2b;">UP 2/2</div><div class="t" style="left:286.50px;top:344.19px;font-size:11px;font-weight:normal;transform:translateX(-50%) scaleX(0.9);transform-origin:50% 0;color:#2e2a2b;">2</div><div class="t" style="left:388.75px;top:344.19px;font-size:11px;font-weight:normal;transform:translateX(-50%) scaleX(0.9);transform-origin:50% 0;color:#2e2a2b;">398</div><div class="t bd" style="left:435.25px;top:344.19px;font-size:11px;font-weight:bold;transform:translateX(-50%) scaleX(0.9);transform-origin:50% 0;color:#2e2a2b;">13,7</div><div class="t bd" style="left:477.00px;top:344.19px;font-size:11px;font-weight:bold;transform:translateX(-50%) scaleX(0.9);transform-origin:50% 0;color:#2e2a2b;">13,5</div><div class="t bd" style="left:52.00px;top:359.70px;font-size:11px;font-weight:bold;transform:scaleX(0.925);transform-origin:0 0;color:#2e2a2b;">UPm 2/3-GE</div><div class="t bd" style="left:129.50px;top:359.70px;font-size:11px;font-weight:bold;transform:scaleX(0.925);transform-origin:0 0;color:#2e2a2b;">UP 2/3</div><div class="t" style="left:286.50px;top:359.70px;font-size:11px;font-weight:normal;transform:translateX(-50%) scaleX(0.9);transform-origin:50% 0;color:#2e2a2b;">3</div><div class="t" style="left:388.75px;top:359.70px;font-size:11px;font-weight:normal;transform:translateX(-50%) scaleX(0.9);transform-origin:50% 0;color:#2e2a2b;">425</div><div class="t bd" style="left:435.25px;top:359.70px;font-size:11px;font-weight:bold;transform:translateX(-50%) scaleX(0.9);transform-origin:50% 0;color:#2e2a2b;">14,2</div><div class="t bd" style="left:477.00px;top:359.70px;font-size:11px;font-weight:bold;transform:translateX(-50%) scaleX(0.9);transform-origin:50% 0;color:#2e2a2b;">14,0</div><div class="t bd" style="left:52.00px;top:375.21px;font-size:11px;font-weight:bold;transform:scaleX(0.925);transform-origin:0 0;color:#2e2a2b;">UPm 2/4-GE</div><div class="t bd" style="left:129.50px;top:375.21px;font-size:11px;font-weight:bold;transform:scaleX(0.925);transform-origin:0 0;color:#2e2a2b;">UP 2/4</div><div class="t" style="left:286.50px;top:375.21px;font-size:11px;font-weight:normal;transform:translateX(-50%) scaleX(0.9);transform-origin:50% 0;color:#2e2a2b;">4</div><div class="t" style="left:388.75px;top:375.21px;font-size:11px;font-weight:normal;transform:translateX(-50%) scaleX(0.9);transform-origin:50% 0;color:#2e2a2b;">482</div><div class="t bd" style="left:435.25px;top:375.21px;font-size:11px;font-weight:bold;transform:translateX(-50%) scaleX(0.9);transform-origin:50% 0;color:#2e2a2b;">15,8</div><div class="t bd" style="left:477.00px;top:375.21px;font-size:11px;font-weight:bold;transform:translateX(-50%) scaleX(0.9);transform-origin:50% 0;color:#2e2a2b;">15,0</div><div class="t bd" style="left:52.00px;top:390.72px;font-size:11px;font-weight:bold;transform:scaleX(0.925);transform-origin:0 0;color:#2e2a2b;">UPm 2/5-GE</div><div class="t bd" style="left:129.50px;top:390.72px;font-size:11px;font-weight:bold;transform:scaleX(0.925);transform-origin:0 0;color:#2e2a2b;">UP 2/5</div><div class="t" style="left:286.50px;top:390.72px;font-size:11px;font-weight:normal;transform:translateX(-50%) scaleX(0.9);transform-origin:50% 0;color:#2e2a2b;">5</div><div class="t" style="left:388.75px;top:390.72px;font-size:11px;font-weight:normal;transform:translateX(-50%) scaleX(0.9);transform-origin:50% 0;color:#2e2a2b;">509</div><div class="t bd" style="left:435.25px;top:390.72px;font-size:11px;font-weight:bold;transform:translateX(-50%) scaleX(0.9);transform-origin:50% 0;color:#2e2a2b;">17,2</div><div class="t bd" style="left:477.00px;top:390.72px;font-size:11px;font-weight:bold;transform:translateX(-50%) scaleX(0.9);transform-origin:50% 0;color:#2e2a2b;">16,4</div><div class="t bd" style="left:52.00px;top:406.23px;font-size:11px;font-weight:bold;transform:scaleX(0.925);transform-origin:0 0;color:#2e2a2b;">UPm 2/6-GE</div><div class="t bd" style="left:129.50px;top:406.23px;font-size:11px;font-weight:bold;transform:scaleX(0.925);transform-origin:0 0;color:#2e2a2b;">UP 2/6</div><div class="t" style="left:286.50px;top:406.23px;font-size:11px;font-weight:normal;transform:translateX(-50%) scaleX(0.9);transform-origin:50% 0;color:#2e2a2b;">6</div><div class="t" style="left:388.75px;top:406.23px;font-size:11px;font-weight:normal;transform:translateX(-50%) scaleX(0.9);transform-origin:50% 0;color:#2e2a2b;">556</div><div class="t bd" style="left:435.25px;top:406.23px;font-size:11px;font-weight:bold;transform:translateX(-50%) scaleX(0.9);transform-origin:50% 0;color:#2e2a2b;">19,5</div><div class="t bd" style="left:477.00px;top:406.23px;font-size:11px;font-weight:bold;transform:translateX(-50%) scaleX(0.9);transform-origin:50% 0;color:#2e2a2b;">18,5</div><div class="t bd" style="left:52.00px;top:421.74px;font-size:11px;font-weight:bold;transform:scaleX(0.925);transform-origin:0 0;color:#2e2a2b;">UPm 4/3-GE</div><div class="t bd" style="left:129.50px;top:421.74px;font-size:11px;font-weight:bold;transform:scaleX(0.925);transform-origin:0 0;color:#2e2a2b;">UP 4/3</div><div class="t" style="left:286.50px;top:421.74px;font-size:11px;font-weight:normal;transform:translateX(-50%) scaleX(0.9);transform-origin:50% 0;color:#2e2a2b;">3</div><div class="t" style="left:388.75px;top:421.74px;font-size:11px;font-weight:normal;transform:translateX(-50%) scaleX(0.9);transform-origin:50% 0;color:#2e2a2b;">425</div><div class="t bd" style="left:435.25px;top:421.74px;font-size:11px;font-weight:bold;transform:translateX(-50%) scaleX(0.9);transform-origin:50% 0;color:#2e2a2b;">14,2</div><div class="t bd" style="left:477.00px;top:421.74px;font-size:11px;font-weight:bold;transform:translateX(-50%) scaleX(0.9);transform-origin:50% 0;color:#2e2a2b;">14,0</div><div class="t bd" style="left:52.00px;top:437.25px;font-size:11px;font-weight:bold;transform:scaleX(0.925);transform-origin:0 0;color:#2e2a2b;">UPm 4/4-GE</div><div class="t bd" style="left:129.50px;top:437.25px;font-size:11px;font-weight:bold;transform:scaleX(0.925);transform-origin:0 0;color:#2e2a2b;">UP 4/4</div><div class="t" style="left:286.50px;top:437.25px;font-size:11px;font-weight:normal;transform:translateX(-50%) scaleX(0.9);transform-origin:50% 0;color:#2e2a2b;">4</div><div class="t" style="left:388.75px;top:437.25px;font-size:11px;font-weight:normal;transform:translateX(-50%) scaleX(0.9);transform-origin:50% 0;color:#2e2a2b;">482</div><div class="t bd" style="left:435.25px;top:437.25px;font-size:11px;font-weight:bold;transform:translateX(-50%) scaleX(0.9);transform-origin:50% 0;color:#2e2a2b;">15,8</div><div class="t bd" style="left:477.00px;top:437.25px;font-size:11px;font-weight:bold;transform:translateX(-50%) scaleX(0.9);transform-origin:50% 0;color:#2e2a2b;">15,0</div><div class="t bd" style="left:52.00px;top:452.76px;font-size:11px;font-weight:bold;transform:scaleX(0.925);transform-origin:0 0;color:#2e2a2b;">UPm 4/5-GE</div><div class="t bd" style="left:129.50px;top:452.76px;font-size:11px;font-weight:bold;transform:scaleX(0.925);transform-origin:0 0;color:#2e2a2b;">UP 4/5</div><div class="t" style="left:286.50px;top:452.76px;font-size:11px;font-weight:normal;transform:translateX(-50%) scaleX(0.9);transform-origin:50% 0;color:#2e2a2b;">5</div><div class="t" style="left:388.75px;top:452.76px;font-size:11px;font-weight:normal;transform:translateX(-50%) scaleX(0.9);transform-origin:50% 0;color:#2e2a2b;">509</div><div class="t bd" style="left:435.25px;top:452.76px;font-size:11px;font-weight:bold;transform:translateX(-50%) scaleX(0.9);transform-origin:50% 0;color:#2e2a2b;">17,2</div><div class="t bd" style="left:477.00px;top:452.76px;font-size:11px;font-weight:bold;transform:translateX(-50%) scaleX(0.9);transform-origin:50% 0;color:#2e2a2b;">16,4</div><div class="t bd" style="left:52.00px;top:468.27px;font-size:11px;font-weight:bold;transform:scaleX(0.925);transform-origin:0 0;color:#2e2a2b;">UPm 4/6-GE</div><div class="t bd" style="left:129.50px;top:468.27px;font-size:11px;font-weight:bold;transform:scaleX(0.925);transform-origin:0 0;color:#2e2a2b;">UP 4/6</div><div class="t" style="left:286.50px;top:468.27px;font-size:11px;font-weight:normal;transform:translateX(-50%) scaleX(0.9);transform-origin:50% 0;color:#2e2a2b;">6</div><div class="t" style="left:388.75px;top:468.27px;font-size:11px;font-weight:normal;transform:translateX(-50%) scaleX(0.9);transform-origin:50% 0;color:#2e2a2b;">556</div><div class="t bd" style="left:435.25px;top:468.27px;font-size:11px;font-weight:bold;transform:translateX(-50%) scaleX(0.9);transform-origin:50% 0;color:#2e2a2b;">19,5</div><div class="t bd" style="left:477.00px;top:468.27px;font-size:11px;font-weight:bold;transform:translateX(-50%) scaleX(0.9);transform-origin:50% 0;color:#2e2a2b;">18,5</div><div class="t bd" style="left:52.00px;top:483.78px;font-size:11px;font-weight:bold;transform:scaleX(0.925);transform-origin:0 0;color:#2e2a2b;">UPm 8/3-GE</div><div class="t bd" style="left:129.50px;top:483.78px;font-size:11px;font-weight:bold;transform:scaleX(0.925);transform-origin:0 0;color:#2e2a2b;">UP 8/3</div><div class="t" style="left:286.50px;top:483.78px;font-size:11px;font-weight:normal;transform:translateX(-50%) scaleX(0.9);transform-origin:50% 0;color:#2e2a2b;">3</div><div class="t" style="left:388.75px;top:483.78px;font-size:11px;font-weight:normal;transform:translateX(-50%) scaleX(0.9);transform-origin:50% 0;color:#2e2a2b;">455</div><div class="t bd" style="left:435.25px;top:483.78px;font-size:11px;font-weight:bold;transform:translateX(-50%) scaleX(0.9);transform-origin:50% 0;color:#2e2a2b;">15,4</div><div class="t bd" style="left:477.00px;top:483.78px;font-size:11px;font-weight:bold;transform:translateX(-50%) scaleX(0.9);transform-origin:50% 0;color:#2e2a2b;">14,6</div><div class="t bd" style="left:52.00px;top:499.29px;font-size:11px;font-weight:bold;transform:scaleX(0.925);transform-origin:0 0;color:#2e2a2b;">UPm 8/4-GE</div><div class="t bd" style="left:129.50px;top:499.29px;font-size:11px;font-weight:bold;transform:scaleX(0.925);transform-origin:0 0;color:#2e2a2b;">UP 8/4</div><div class="t" style="left:286.50px;top:499.29px;font-size:11px;font-weight:normal;transform:translateX(-50%) scaleX(0.9);transform-origin:50% 0;color:#2e2a2b;">4</div><div class="t" style="left:388.75px;top:499.29px;font-size:11px;font-weight:normal;transform:translateX(-50%) scaleX(0.9);transform-origin:50% 0;color:#2e2a2b;">502</div><div class="t bd" style="left:435.25px;top:499.29px;font-size:11px;font-weight:bold;transform:translateX(-50%) scaleX(0.9);transform-origin:50% 0;color:#2e2a2b;">17,7</div><div class="t bd" style="left:477.00px;top:499.29px;font-size:11px;font-weight:bold;transform:translateX(-50%) scaleX(0.9);transform-origin:50% 0;color:#2e2a2b;">16,7</div><div class="t bd" style="left:229.50px;top:420.69px;font-size:11px;font-weight:bold;transform:translateX(-50%) scaleX(0.9);transform-origin:50% 0;color:#2e2a2b;">1¼&#8221;</div><div class="t" style="left:339.50px;top:420.69px;font-size:11px;font-weight:normal;transform:translateX(-50%) scaleX(0.9);transform-origin:50% 0;color:#2e2a2b;">150</div><div class="t bd" style="left:530.00px;top:305.49px;font-size:11px;font-weight:bold;transform:scaleX(0.9);transform-origin:0 0;color:#2e2a2b;">ТИП</div><div class="t bd" style="left:679.00px;top:306.99px;font-size:11px;font-weight:bold;transform:translateX(-50%) scaleX(0.93);transform-origin:50% 0;color:#2e2a2b;">УРОВНИ, мм</div><div class="t bd" style="left:628.25px;top:326.09px;font-size:11px;font-weight:bold;transform:translateX(-50%) scaleX(0.9);transform-origin:50% 0;color:#2e2a2b;">s</div><div class="t bd" style="left:679.00px;top:326.09px;font-size:11px;font-weight:bold;transform:translateX(-50%) scaleX(0.9);transform-origin:50% 0;color:#2e2a2b;">t</div><div class="t bd" style="left:729.25px;top:326.09px;font-size:11px;font-weight:bold;transform:translateX(-50%) scaleX(0.9);transform-origin:50% 0;color:#2e2a2b;">u</div><div class="t bd" style="left:530.00px;top:346.49px;font-size:11px;font-weight:bold;transform:scaleX(0.95);transform-origin:0 0;color:#2e2a2b;">UP 2/2</div><div class="t bd" style="left:530.00px;top:359.19px;font-size:11px;font-weight:bold;transform:scaleX(0.95);transform-origin:0 0;color:#2e2a2b;">UP 2/3</div><div class="t bd" style="left:530.00px;top:371.89px;font-size:11px;font-weight:bold;transform:scaleX(0.95);transform-origin:0 0;color:#2e2a2b;">UP 4/3</div><div class="t bd" style="left:530.00px;top:390.09px;font-size:11px;font-weight:bold;transform:scaleX(0.95);transform-origin:0 0;color:#2e2a2b;">UP 2/4</div><div class="t bd" style="left:530.00px;top:402.99px;font-size:11px;font-weight:bold;transform:scaleX(0.95);transform-origin:0 0;color:#2e2a2b;">UP 2/5</div><div class="t bd" style="left:530.00px;top:415.89px;font-size:11px;font-weight:bold;transform:scaleX(0.95);transform-origin:0 0;color:#2e2a2b;">UP 4/4</div><div class="t bd" style="left:530.00px;top:428.79px;font-size:11px;font-weight:bold;transform:scaleX(0.95);transform-origin:0 0;color:#2e2a2b;">UP 4/5</div><div class="t bd" style="left:530.00px;top:441.69px;font-size:11px;font-weight:bold;transform:scaleX(0.95);transform-origin:0 0;color:#2e2a2b;">UP 8/3</div><div class="t bd" style="left:530.00px;top:465.09px;font-size:11px;font-weight:bold;transform:scaleX(0.95);transform-origin:0 0;color:#2e2a2b;">UP 2/6</div><div class="t bd" style="left:530.00px;top:477.89px;font-size:11px;font-weight:bold;transform:scaleX(0.95);transform-origin:0 0;color:#2e2a2b;">UP 4/6</div><div class="t bd" style="left:530.00px;top:490.69px;font-size:11px;font-weight:bold;transform:scaleX(0.95);transform-origin:0 0;color:#2e2a2b;">UP 8/4</div><div class="t" style="left:628.25px;top:358.69px;font-size:11px;font-weight:normal;transform:translateX(-50%) scaleX(0.9);transform-origin:50% 0;color:#2e2a2b;">320</div><div class="t" style="left:628.25px;top:416.29px;font-size:11px;font-weight:normal;transform:translateX(-50%) scaleX(0.9);transform-origin:50% 0;color:#2e2a2b;">350</div><div class="t" style="left:628.25px;top:478.39px;font-size:11px;font-weight:normal;transform:translateX(-50%) scaleX(0.9);transform-origin:50% 0;color:#2e2a2b;">370</div><div class="t" style="left:679.00px;top:420.69px;font-size:11px;font-weight:normal;transform:translateX(-50%) scaleX(0.9);transform-origin:50% 0;color:#2e2a2b;">135</div><div class="t" style="left:729.25px;top:420.69px;font-size:11px;font-weight:normal;transform:translateX(-50%) scaleX(0.9);transform-origin:50% 0;color:#2e2a2b;">55</div><div class="t bd" style="left:528.00px;top:519.13px;font-size:10px;font-weight:bold;transform:scaleX(1.0);transform-origin:0 0;color:#2e2a2b;">s</div><div class="t" style="left:537.30px;top:519.13px;font-size:10px;font-weight:normal;transform:scaleX(1.0);transform-origin:0 0;color:#2e2a2b;">=</div><div class="t" style="left:545.70px;top:519.13px;font-size:10px;font-weight:normal;transform:scaleX(1.008);transform-origin:0 0;color:#2e2a2b;">Минимальный уровень перезапуска</div><div class="t bd" style="left:528.00px;top:532.13px;font-size:10px;font-weight:bold;transform:scaleX(1.0);transform-origin:0 0;color:#2e2a2b;">t</div><div class="t" style="left:537.30px;top:532.13px;font-size:10px;font-weight:normal;transform:scaleX(1.0);transform-origin:0 0;color:#2e2a2b;">=</div><div class="t" style="left:545.70px;top:532.13px;font-size:10px;font-weight:normal;transform:scaleX(1.02);transform-origin:0 0;color:#2e2a2b;">Уровень опорожнения</div><div class="t bd" style="left:528.00px;top:545.23px;font-size:10px;font-weight:bold;transform:scaleX(1.0);transform-origin:0 0;color:#2e2a2b;">u</div><div class="t" style="left:537.30px;top:545.23px;font-size:10px;font-weight:normal;transform:scaleX(1.0);transform-origin:0 0;color:#2e2a2b;">=</div><div class="t" style="left:545.70px;top:545.23px;font-size:10px;font-weight:normal;transform:scaleX(1.01);transform-origin:0 0;color:#2e2a2b;">Минимальный уровень</div><div class="t" style="left:528.00px;top:557.33px;font-size:10px;font-weight:normal;transform:scaleX(1.015);transform-origin:0 0;color:#2e2a2b;">функционирования</div><div class="t bd" style="left:50.50px;top:558.65px;font-size:14px;font-weight:bold;transform:scaleX(0.94);transform-origin:0 0;color:#3a5290;">ПОТРЕБЛЯЕМЫЙ ТОК</div><div class="t bd" style="left:54.00px;top:594.69px;font-size:11px;font-weight:bold;transform:scaleX(0.9);transform-origin:0 0;color:#2e2a2b;">ТИП</div><div class="t bd" style="left:54.00px;top:612.69px;font-size:11px;font-weight:bold;transform:scaleX(0.925);transform-origin:0 0;color:#2e2a2b;">Однофазный</div><div class="t bd" style="left:254.88px;top:594.69px;font-size:11px;font-weight:bold;transform:translateX(-50%) scaleX(0.9);transform-origin:50% 0;color:#2e2a2b;">НАПРЯЖЕНИЕ</div><div class="t" style="left:189.88px;top:612.69px;font-size:11px;font-weight:normal;transform:translateX(-50%) scaleX(0.9);transform-origin:50% 0;color:#2e2a2b;">230 В</div><div class="t" style="left:319.00px;top:612.69px;font-size:11px;font-weight:normal;transform:translateX(-50%) scaleX(0.9);transform-origin:50% 0;color:#2e2a2b;">240 В</div><div class="t bd" style="left:54.00px;top:630.69px;font-size:11px;font-weight:bold;transform:scaleX(0.925);transform-origin:0 0;color:#2e2a2b;">UPm 2/2-GE</div><div class="t" style="left:189.88px;top:630.69px;font-size:11px;font-weight:normal;transform:translateX(-50%) scaleX(0.9);transform-origin:50% 0;color:#2e2a2b;"><b>4,4</b> A</div><div class="t" style="left:319.00px;top:630.69px;font-size:11px;font-weight:normal;transform:translateX(-50%) scaleX(0.9);transform-origin:50% 0;color:#2e2a2b;"><b>4,3</b> A</div><div class="t bd" style="left:54.00px;top:645.87px;font-size:11px;font-weight:bold;transform:scaleX(0.925);transform-origin:0 0;color:#2e2a2b;">UPm 2/3-GE</div><div class="t" style="left:189.88px;top:645.87px;font-size:11px;font-weight:normal;transform:translateX(-50%) scaleX(0.9);transform-origin:50% 0;color:#2e2a2b;"><b>5,4</b> A</div><div class="t" style="left:319.00px;top:645.87px;font-size:11px;font-weight:normal;transform:translateX(-50%) scaleX(0.9);transform-origin:50% 0;color:#2e2a2b;"><b>5,2</b> A</div><div class="t bd" style="left:54.00px;top:661.05px;font-size:11px;font-weight:bold;transform:scaleX(0.925);transform-origin:0 0;color:#2e2a2b;">UPm 2/4-GE</div><div class="t" style="left:189.88px;top:661.05px;font-size:11px;font-weight:normal;transform:translateX(-50%) scaleX(0.9);transform-origin:50% 0;color:#2e2a2b;"><b>6,2</b> A</div><div class="t" style="left:319.00px;top:661.05px;font-size:11px;font-weight:normal;transform:translateX(-50%) scaleX(0.9);transform-origin:50% 0;color:#2e2a2b;"><b>6,0</b> A</div><div class="t bd" style="left:54.00px;top:676.23px;font-size:11px;font-weight:bold;transform:scaleX(0.925);transform-origin:0 0;color:#2e2a2b;">UPm 2/5-GE</div><div class="t" style="left:189.88px;top:676.23px;font-size:11px;font-weight:normal;transform:translateX(-50%) scaleX(0.9);transform-origin:50% 0;color:#2e2a2b;"><b>7,6</b> A</div><div class="t" style="left:319.00px;top:676.23px;font-size:11px;font-weight:normal;transform:translateX(-50%) scaleX(0.9);transform-origin:50% 0;color:#2e2a2b;"><b>7,3</b> A</div><div class="t bd" style="left:54.00px;top:691.41px;font-size:11px;font-weight:bold;transform:scaleX(0.925);transform-origin:0 0;color:#2e2a2b;">UPm 2/6-GE</div><div class="t" style="left:189.88px;top:691.41px;font-size:11px;font-weight:normal;transform:translateX(-50%) scaleX(0.9);transform-origin:50% 0;color:#2e2a2b;"><b>8,8</b> A</div><div class="t" style="left:319.00px;top:691.41px;font-size:11px;font-weight:normal;transform:translateX(-50%) scaleX(0.9);transform-origin:50% 0;color:#2e2a2b;"><b>8,5</b> A</div><div class="t bd" style="left:54.00px;top:706.59px;font-size:11px;font-weight:bold;transform:scaleX(0.925);transform-origin:0 0;color:#2e2a2b;">UPm 4/3-GE</div><div class="t" style="left:189.88px;top:706.59px;font-size:11px;font-weight:normal;transform:translateX(-50%) scaleX(0.9);transform-origin:50% 0;color:#2e2a2b;"><b>5,0</b> A</div><div class="t" style="left:319.00px;top:706.59px;font-size:11px;font-weight:normal;transform:translateX(-50%) scaleX(0.9);transform-origin:50% 0;color:#2e2a2b;"><b>4,8</b> A</div><div class="t bd" style="left:54.00px;top:721.77px;font-size:11px;font-weight:bold;transform:scaleX(0.925);transform-origin:0 0;color:#2e2a2b;">UPm 4/4-GE</div><div class="t" style="left:189.88px;top:721.77px;font-size:11px;font-weight:normal;transform:translateX(-50%) scaleX(0.9);transform-origin:50% 0;color:#2e2a2b;"><b>6,2</b> A</div><div class="t" style="left:319.00px;top:721.77px;font-size:11px;font-weight:normal;transform:translateX(-50%) scaleX(0.9);transform-origin:50% 0;color:#2e2a2b;"><b>6,0</b> A</div><div class="t bd" style="left:54.00px;top:736.95px;font-size:11px;font-weight:bold;transform:scaleX(0.925);transform-origin:0 0;color:#2e2a2b;">UPm 4/5-GE</div><div class="t" style="left:189.88px;top:736.95px;font-size:11px;font-weight:normal;transform:translateX(-50%) scaleX(0.9);transform-origin:50% 0;color:#2e2a2b;"><b>7,2</b> A</div><div class="t" style="left:319.00px;top:736.95px;font-size:11px;font-weight:normal;transform:translateX(-50%) scaleX(0.9);transform-origin:50% 0;color:#2e2a2b;"><b>6,9</b> A</div><div class="t bd" style="left:54.00px;top:752.13px;font-size:11px;font-weight:bold;transform:scaleX(0.925);transform-origin:0 0;color:#2e2a2b;">UPm 4/6-GE</div><div class="t" style="left:189.88px;top:752.13px;font-size:11px;font-weight:normal;transform:translateX(-50%) scaleX(0.9);transform-origin:50% 0;color:#2e2a2b;"><b>8,7</b> A</div><div class="t" style="left:319.00px;top:752.13px;font-size:11px;font-weight:normal;transform:translateX(-50%) scaleX(0.9);transform-origin:50% 0;color:#2e2a2b;"><b>8,4</b> A</div><div class="t bd" style="left:54.00px;top:767.31px;font-size:11px;font-weight:bold;transform:scaleX(0.925);transform-origin:0 0;color:#2e2a2b;">UPm 8/3-GE</div><div class="t" style="left:189.88px;top:767.31px;font-size:11px;font-weight:normal;transform:translateX(-50%) scaleX(0.9);transform-origin:50% 0;color:#2e2a2b;"><b>7,6</b> A</div><div class="t" style="left:319.00px;top:767.31px;font-size:11px;font-weight:normal;transform:translateX(-50%) scaleX(0.9);transform-origin:50% 0;color:#2e2a2b;"><b>7,3</b> A</div><div class="t bd" style="left:54.00px;top:782.49px;font-size:11px;font-weight:bold;transform:scaleX(0.925);transform-origin:0 0;color:#2e2a2b;">UPm 8/4-GE</div><div class="t" style="left:189.88px;top:782.49px;font-size:11px;font-weight:normal;transform:translateX(-50%) scaleX(0.9);transform-origin:50% 0;color:#2e2a2b;"><b>8,8</b> A</div><div class="t" style="left:319.00px;top:782.49px;font-size:11px;font-weight:normal;transform:translateX(-50%) scaleX(0.9);transform-origin:50% 0;color:#2e2a2b;"><b>8,5</b> A</div><div class="t bd" style="left:425.00px;top:594.69px;font-size:11px;font-weight:bold;transform:scaleX(0.9);transform-origin:0 0;color:#2e2a2b;">ТИП</div><div class="t bd" style="left:425.00px;top:612.69px;font-size:11px;font-weight:bold;transform:scaleX(0.925);transform-origin:0 0;color:#2e2a2b;">Трехфазный</div><div class="t bd" style="left:625.50px;top:594.69px;font-size:11px;font-weight:bold;transform:translateX(-50%) scaleX(0.9);transform-origin:50% 0;color:#2e2a2b;">НАПРЯЖЕНИЕ</div><div class="t" style="left:528.75px;top:612.69px;font-size:11px;font-weight:normal;transform:translateX(-50%) scaleX(0.9);transform-origin:50% 0;color:#2e2a2b;">230 В</div><div class="t" style="left:593.00px;top:612.69px;font-size:11px;font-weight:normal;transform:translateX(-50%) scaleX(0.9);transform-origin:50% 0;color:#2e2a2b;">400 В</div><div class="t" style="left:657.75px;top:612.69px;font-size:11px;font-weight:normal;transform:translateX(-50%) scaleX(0.9);transform-origin:50% 0;color:#2e2a2b;">240 В</div><div class="t" style="left:722.00px;top:612.69px;font-size:11px;font-weight:normal;transform:translateX(-50%) scaleX(0.9);transform-origin:50% 0;color:#2e2a2b;">415 В</div><div class="t bd" style="left:425.00px;top:630.69px;font-size:11px;font-weight:bold;transform:scaleX(0.925);transform-origin:0 0;color:#2e2a2b;">UP 2/2</div><div class="t" style="left:528.75px;top:630.69px;font-size:11px;font-weight:normal;transform:translateX(-50%) scaleX(0.9);transform-origin:50% 0;color:#2e2a2b;"><b>2,8</b> A</div><div class="t" style="left:593.00px;top:630.69px;font-size:11px;font-weight:normal;transform:translateX(-50%) scaleX(0.9);transform-origin:50% 0;color:#2e2a2b;"><b>1,6</b> A</div><div class="t" style="left:657.75px;top:630.69px;font-size:11px;font-weight:normal;transform:translateX(-50%) scaleX(0.9);transform-origin:50% 0;color:#2e2a2b;"><b>2,7</b> A</div><div class="t" style="left:722.00px;top:630.69px;font-size:11px;font-weight:normal;transform:translateX(-50%) scaleX(0.9);transform-origin:50% 0;color:#2e2a2b;"><b>1,5</b> A</div><div class="t bd" style="left:425.00px;top:645.87px;font-size:11px;font-weight:bold;transform:scaleX(0.925);transform-origin:0 0;color:#2e2a2b;">UP 2/3</div><div class="t" style="left:528.75px;top:645.87px;font-size:11px;font-weight:normal;transform:translateX(-50%) scaleX(0.9);transform-origin:50% 0;color:#2e2a2b;"><b>3,3</b> A</div><div class="t" style="left:593.00px;top:645.87px;font-size:11px;font-weight:normal;transform:translateX(-50%) scaleX(0.9);transform-origin:50% 0;color:#2e2a2b;"><b>1,9</b> A</div><div class="t" style="left:657.75px;top:645.87px;font-size:11px;font-weight:normal;transform:translateX(-50%) scaleX(0.9);transform-origin:50% 0;color:#2e2a2b;"><b>3,2</b> A</div><div class="t" style="left:722.00px;top:645.87px;font-size:11px;font-weight:normal;transform:translateX(-50%) scaleX(0.9);transform-origin:50% 0;color:#2e2a2b;"><b>1,8</b> A</div><div class="t bd" style="left:425.00px;top:661.05px;font-size:11px;font-weight:bold;transform:scaleX(0.925);transform-origin:0 0;color:#2e2a2b;">UP 2/4</div><div class="t" style="left:528.75px;top:661.05px;font-size:11px;font-weight:normal;transform:translateX(-50%) scaleX(0.9);transform-origin:50% 0;color:#2e2a2b;"><b>4,0</b> A</div><div class="t" style="left:593.00px;top:661.05px;font-size:11px;font-weight:normal;transform:translateX(-50%) scaleX(0.9);transform-origin:50% 0;color:#2e2a2b;"><b>2,3</b> A</div><div class="t" style="left:657.75px;top:661.05px;font-size:11px;font-weight:normal;transform:translateX(-50%) scaleX(0.9);transform-origin:50% 0;color:#2e2a2b;"><b>3,9</b> A</div><div class="t" style="left:722.00px;top:661.05px;font-size:11px;font-weight:normal;transform:translateX(-50%) scaleX(0.9);transform-origin:50% 0;color:#2e2a2b;"><b>2,2</b> A</div><div class="t bd" style="left:425.00px;top:676.23px;font-size:11px;font-weight:bold;transform:scaleX(0.925);transform-origin:0 0;color:#2e2a2b;">UP 2/5</div><div class="t" style="left:528.75px;top:676.23px;font-size:11px;font-weight:normal;transform:translateX(-50%) scaleX(0.9);transform-origin:50% 0;color:#2e2a2b;"><b>5,0</b> A</div><div class="t" style="left:593.00px;top:676.23px;font-size:11px;font-weight:normal;transform:translateX(-50%) scaleX(0.9);transform-origin:50% 0;color:#2e2a2b;"><b>2,9</b> A</div><div class="t" style="left:657.75px;top:676.23px;font-size:11px;font-weight:normal;transform:translateX(-50%) scaleX(0.9);transform-origin:50% 0;color:#2e2a2b;"><b>4,9</b> A</div><div class="t" style="left:722.00px;top:676.23px;font-size:11px;font-weight:normal;transform:translateX(-50%) scaleX(0.9);transform-origin:50% 0;color:#2e2a2b;"><b>2,8</b> A</div><div class="t bd" style="left:425.00px;top:691.41px;font-size:11px;font-weight:bold;transform:scaleX(0.925);transform-origin:0 0;color:#2e2a2b;">UP 2/6</div><div class="t" style="left:528.75px;top:691.41px;font-size:11px;font-weight:normal;transform:translateX(-50%) scaleX(0.9);transform-origin:50% 0;color:#2e2a2b;"><b>5,7</b> A</div><div class="t" style="left:593.00px;top:691.41px;font-size:11px;font-weight:normal;transform:translateX(-50%) scaleX(0.9);transform-origin:50% 0;color:#2e2a2b;"><b>3,3</b> A</div><div class="t" style="left:657.75px;top:691.41px;font-size:11px;font-weight:normal;transform:translateX(-50%) scaleX(0.9);transform-origin:50% 0;color:#2e2a2b;"><b>5,5</b> A</div><div class="t" style="left:722.00px;top:691.41px;font-size:11px;font-weight:normal;transform:translateX(-50%) scaleX(0.9);transform-origin:50% 0;color:#2e2a2b;"><b>3,2</b> A</div><div class="t bd" style="left:425.00px;top:706.59px;font-size:11px;font-weight:bold;transform:scaleX(0.925);transform-origin:0 0;color:#2e2a2b;">UP 4/3</div><div class="t" style="left:528.75px;top:706.59px;font-size:11px;font-weight:normal;transform:translateX(-50%) scaleX(0.9);transform-origin:50% 0;color:#2e2a2b;"><b>3,2</b> A</div><div class="t" style="left:593.00px;top:706.59px;font-size:11px;font-weight:normal;transform:translateX(-50%) scaleX(0.9);transform-origin:50% 0;color:#2e2a2b;"><b>1,8</b> A</div><div class="t" style="left:657.75px;top:706.59px;font-size:11px;font-weight:normal;transform:translateX(-50%) scaleX(0.9);transform-origin:50% 0;color:#2e2a2b;"><b>3,1</b> A</div><div class="t" style="left:722.00px;top:706.59px;font-size:11px;font-weight:normal;transform:translateX(-50%) scaleX(0.9);transform-origin:50% 0;color:#2e2a2b;"><b>1,7</b> A</div><div class="t bd" style="left:425.00px;top:721.77px;font-size:11px;font-weight:bold;transform:scaleX(0.925);transform-origin:0 0;color:#2e2a2b;">UP 4/4</div><div class="t" style="left:528.75px;top:721.77px;font-size:11px;font-weight:normal;transform:translateX(-50%) scaleX(0.9);transform-origin:50% 0;color:#2e2a2b;"><b>3,8</b> A</div><div class="t" style="left:593.00px;top:721.77px;font-size:11px;font-weight:normal;transform:translateX(-50%) scaleX(0.9);transform-origin:50% 0;color:#2e2a2b;"><b>2,2</b> A</div><div class="t" style="left:657.75px;top:721.77px;font-size:11px;font-weight:normal;transform:translateX(-50%) scaleX(0.9);transform-origin:50% 0;color:#2e2a2b;"><b>3,7</b> A</div><div class="t" style="left:722.00px;top:721.77px;font-size:11px;font-weight:normal;transform:translateX(-50%) scaleX(0.9);transform-origin:50% 0;color:#2e2a2b;"><b>2,1</b> A</div><div class="t bd" style="left:425.00px;top:736.95px;font-size:11px;font-weight:bold;transform:scaleX(0.925);transform-origin:0 0;color:#2e2a2b;">UP 4/5</div><div class="t" style="left:528.75px;top:736.95px;font-size:11px;font-weight:normal;transform:translateX(-50%) scaleX(0.9);transform-origin:50% 0;color:#2e2a2b;"><b>4,9</b> A</div><div class="t" style="left:593.00px;top:736.95px;font-size:11px;font-weight:normal;transform:translateX(-50%) scaleX(0.9);transform-origin:50% 0;color:#2e2a2b;"><b>2,8</b> A</div><div class="t" style="left:657.75px;top:736.95px;font-size:11px;font-weight:normal;transform:translateX(-50%) scaleX(0.9);transform-origin:50% 0;color:#2e2a2b;"><b>4,7</b> A</div><div class="t" style="left:722.00px;top:736.95px;font-size:11px;font-weight:normal;transform:translateX(-50%) scaleX(0.9);transform-origin:50% 0;color:#2e2a2b;"><b>2,7</b> A</div><div class="t bd" style="left:425.00px;top:752.13px;font-size:11px;font-weight:bold;transform:scaleX(0.925);transform-origin:0 0;color:#2e2a2b;">UP 4/6</div><div class="t" style="left:528.75px;top:752.13px;font-size:11px;font-weight:normal;transform:translateX(-50%) scaleX(0.9);transform-origin:50% 0;color:#2e2a2b;"><b>5,6</b> A</div><div class="t" style="left:593.00px;top:752.13px;font-size:11px;font-weight:normal;transform:translateX(-50%) scaleX(0.9);transform-origin:50% 0;color:#2e2a2b;"><b>3,2</b> A</div><div class="t" style="left:657.75px;top:752.13px;font-size:11px;font-weight:normal;transform:translateX(-50%) scaleX(0.9);transform-origin:50% 0;color:#2e2a2b;"><b>5,4</b> A</div><div class="t" style="left:722.00px;top:752.13px;font-size:11px;font-weight:normal;transform:translateX(-50%) scaleX(0.9);transform-origin:50% 0;color:#2e2a2b;"><b>3,1</b> A</div><div class="t bd" style="left:425.00px;top:767.31px;font-size:11px;font-weight:bold;transform:scaleX(0.925);transform-origin:0 0;color:#2e2a2b;">UP 8/3</div><div class="t" style="left:528.75px;top:767.31px;font-size:11px;font-weight:normal;transform:translateX(-50%) scaleX(0.9);transform-origin:50% 0;color:#2e2a2b;"><b>5,0</b> A</div><div class="t" style="left:593.00px;top:767.31px;font-size:11px;font-weight:normal;transform:translateX(-50%) scaleX(0.9);transform-origin:50% 0;color:#2e2a2b;"><b>2,9</b> A</div><div class="t" style="left:657.75px;top:767.31px;font-size:11px;font-weight:normal;transform:translateX(-50%) scaleX(0.9);transform-origin:50% 0;color:#2e2a2b;"><b>4,9</b> A</div><div class="t" style="left:722.00px;top:767.31px;font-size:11px;font-weight:normal;transform:translateX(-50%) scaleX(0.9);transform-origin:50% 0;color:#2e2a2b;"><b>2,8</b> A</div><div class="t bd" style="left:425.00px;top:782.49px;font-size:11px;font-weight:bold;transform:scaleX(0.925);transform-origin:0 0;color:#2e2a2b;">UP 8/4</div><div class="t" style="left:528.75px;top:782.49px;font-size:11px;font-weight:normal;transform:translateX(-50%) scaleX(0.9);transform-origin:50% 0;color:#2e2a2b;"><b>5,7</b> A</div><div class="t" style="left:593.00px;top:782.49px;font-size:11px;font-weight:normal;transform:translateX(-50%) scaleX(0.9);transform-origin:50% 0;color:#2e2a2b;"><b>3,3</b> A</div><div class="t" style="left:657.75px;top:782.49px;font-size:11px;font-weight:normal;transform:translateX(-50%) scaleX(0.9);transform-origin:50% 0;color:#2e2a2b;"><b>5,5</b> A</div><div class="t" style="left:722.00px;top:782.49px;font-size:11px;font-weight:normal;transform:translateX(-50%) scaleX(0.9);transform-origin:50% 0;color:#2e2a2b;"><b>3,2</b> A</div><div style="position:absolute;left:292px;top:41px;width:151.5px;height:12.6px;background:#d4e0e4"></div><div style="position:absolute;left:563.4px;top:41.2px;width:151.6px;height:12.5px;background:#d4e0e4"></div><div class="t bd" style="left:307.00px;top:42.69px;font-size:11px;font-weight:bold;transform:scaleX(0.9);transform-origin:0 0;color:#33302f;">Вертикальная установка</div><div class="t bd" style="left:572.60px;top:42.69px;font-size:11px;font-weight:bold;transform:scaleX(0.905);transform-origin:0 0;color:#33302f;">Горизонтальная установка</div>
</div></body></html>
